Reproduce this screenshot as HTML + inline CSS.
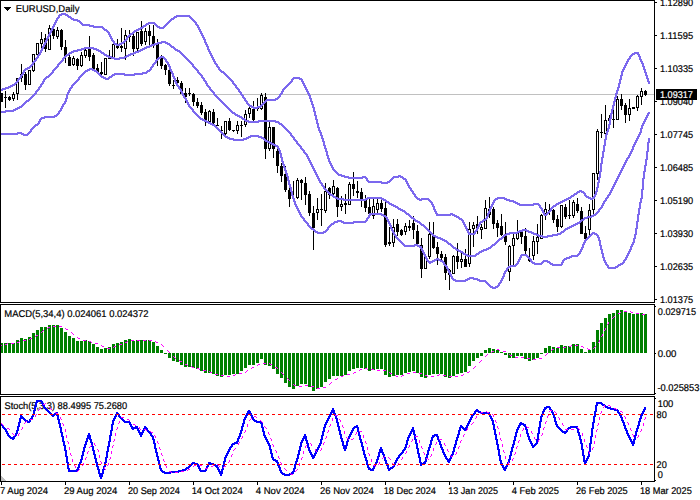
<!DOCTYPE html>
<html><head><meta charset="utf-8"><title>EURUSD Daily</title>
<style>html,body{margin:0;padding:0;background:#fff;}body{width:700px;height:500px;overflow:hidden;}svg{display:block;}text{font-family:"Liberation Sans",sans-serif;font-size:9.8px;text-rendering:geometricPrecision;stroke-width:0.2px;}</style>
</head><body>
<svg width="700" height="500" viewBox="0 0 700 500">
<rect x="0" y="0" width="700" height="500" fill="#fff"/>
<g shape-rendering="crispEdges">
<rect x="1" y="94" width="653" height="1" fill="#c0c0c0"/>
<rect x="1" y="93" width="1" height="9" fill="#000"/>
<rect x="0" y="93" width="3" height="9" fill="#000"/>
<rect x="5" y="91" width="1" height="17" fill="#000"/>
<rect x="4" y="97" width="3" height="1" fill="#000"/>
<rect x="9" y="96" width="1" height="5" fill="#000"/>
<rect x="8" y="97" width="3" height="3" fill="#000"/>
<rect x="13" y="92" width="1" height="9" fill="#000"/>
<rect x="12" y="94" width="3" height="5" fill="#000"/>
<rect x="13" y="95" width="1" height="3" fill="#fff"/>
<rect x="17" y="78" width="1" height="22" fill="#000"/>
<rect x="16" y="78" width="3" height="16" fill="#000"/>
<rect x="17" y="79" width="1" height="14" fill="#fff"/>
<rect x="21" y="64" width="1" height="18" fill="#000"/>
<rect x="20" y="74" width="3" height="4" fill="#000"/>
<rect x="21" y="75" width="1" height="2" fill="#fff"/>
<rect x="25" y="72" width="1" height="18" fill="#000"/>
<rect x="24" y="74" width="3" height="11" fill="#000"/>
<rect x="29" y="70" width="1" height="15" fill="#000"/>
<rect x="28" y="70" width="3" height="15" fill="#000"/>
<rect x="29" y="71" width="1" height="13" fill="#fff"/>
<rect x="33" y="54" width="1" height="18" fill="#000"/>
<rect x="32" y="54" width="3" height="17" fill="#000"/>
<rect x="33" y="55" width="1" height="15" fill="#fff"/>
<rect x="37" y="43" width="1" height="14" fill="#000"/>
<rect x="36" y="43" width="3" height="12" fill="#000"/>
<rect x="37" y="44" width="1" height="10" fill="#fff"/>
<rect x="41" y="32" width="1" height="18" fill="#000"/>
<rect x="40" y="39" width="3" height="5" fill="#000"/>
<rect x="41" y="40" width="1" height="3" fill="#fff"/>
<rect x="45" y="34" width="1" height="18" fill="#000"/>
<rect x="44" y="38" width="3" height="11" fill="#000"/>
<rect x="49" y="25" width="1" height="25" fill="#000"/>
<rect x="48" y="28" width="3" height="22" fill="#000"/>
<rect x="49" y="29" width="1" height="20" fill="#fff"/>
<rect x="53" y="24" width="1" height="15" fill="#000"/>
<rect x="52" y="29" width="3" height="7" fill="#000"/>
<rect x="57" y="27" width="1" height="12" fill="#000"/>
<rect x="56" y="30" width="3" height="7" fill="#000"/>
<rect x="57" y="31" width="1" height="5" fill="#fff"/>
<rect x="61" y="29" width="1" height="21" fill="#000"/>
<rect x="60" y="30" width="3" height="17" fill="#000"/>
<rect x="65" y="40" width="1" height="23" fill="#000"/>
<rect x="64" y="47" width="3" height="10" fill="#000"/>
<rect x="69" y="52" width="1" height="14" fill="#000"/>
<rect x="68" y="57" width="3" height="9" fill="#000"/>
<rect x="73" y="56" width="1" height="10" fill="#000"/>
<rect x="72" y="58" width="3" height="7" fill="#000"/>
<rect x="73" y="59" width="1" height="5" fill="#fff"/>
<rect x="77" y="58" width="1" height="12" fill="#000"/>
<rect x="76" y="59" width="3" height="7" fill="#000"/>
<rect x="81" y="52" width="1" height="15" fill="#000"/>
<rect x="80" y="55" width="3" height="11" fill="#000"/>
<rect x="81" y="56" width="1" height="9" fill="#fff"/>
<rect x="85" y="47" width="1" height="11" fill="#000"/>
<rect x="84" y="50" width="3" height="6" fill="#000"/>
<rect x="85" y="51" width="1" height="4" fill="#fff"/>
<rect x="89" y="36" width="1" height="25" fill="#000"/>
<rect x="88" y="47" width="3" height="10" fill="#000"/>
<rect x="93" y="53" width="1" height="16" fill="#000"/>
<rect x="92" y="55" width="3" height="14" fill="#000"/>
<rect x="97" y="64" width="1" height="8" fill="#000"/>
<rect x="96" y="68" width="3" height="4" fill="#000"/>
<rect x="101" y="62" width="1" height="13" fill="#000"/>
<rect x="100" y="72" width="3" height="2" fill="#000"/>
<rect x="105" y="58" width="1" height="17" fill="#000"/>
<rect x="104" y="58" width="3" height="17" fill="#000"/>
<rect x="105" y="59" width="1" height="15" fill="#fff"/>
<rect x="109" y="50" width="1" height="9" fill="#000"/>
<rect x="108" y="58" width="3" height="1" fill="#000"/>
<rect x="113" y="44" width="1" height="14" fill="#000"/>
<rect x="112" y="44" width="3" height="14" fill="#000"/>
<rect x="113" y="45" width="1" height="12" fill="#fff"/>
<rect x="117" y="39" width="1" height="10" fill="#000"/>
<rect x="116" y="46" width="3" height="2" fill="#000"/>
<rect x="121" y="28" width="1" height="24" fill="#000"/>
<rect x="120" y="46" width="3" height="2" fill="#000"/>
<rect x="125" y="30" width="1" height="30" fill="#000"/>
<rect x="124" y="35" width="3" height="14" fill="#000"/>
<rect x="125" y="36" width="1" height="12" fill="#fff"/>
<rect x="129" y="30" width="1" height="12" fill="#000"/>
<rect x="128" y="36" width="3" height="1" fill="#000"/>
<rect x="133" y="34" width="1" height="22" fill="#000"/>
<rect x="132" y="36" width="3" height="13" fill="#000"/>
<rect x="137" y="32" width="1" height="19" fill="#000"/>
<rect x="136" y="32" width="3" height="17" fill="#000"/>
<rect x="137" y="33" width="1" height="15" fill="#fff"/>
<rect x="141" y="21" width="1" height="25" fill="#000"/>
<rect x="140" y="31" width="3" height="13" fill="#000"/>
<rect x="145" y="28" width="1" height="17" fill="#000"/>
<rect x="144" y="31" width="3" height="11" fill="#000"/>
<rect x="145" y="32" width="1" height="9" fill="#fff"/>
<rect x="149" y="25" width="1" height="20" fill="#000"/>
<rect x="148" y="31" width="3" height="5" fill="#000"/>
<rect x="153" y="25" width="1" height="23" fill="#000"/>
<rect x="152" y="36" width="3" height="8" fill="#000"/>
<rect x="157" y="39" width="1" height="27" fill="#000"/>
<rect x="156" y="44" width="3" height="16" fill="#000"/>
<rect x="161" y="55" width="1" height="14" fill="#000"/>
<rect x="160" y="58" width="3" height="8" fill="#000"/>
<rect x="165" y="64" width="1" height="11" fill="#000"/>
<rect x="164" y="65" width="3" height="5" fill="#000"/>
<rect x="169" y="69" width="1" height="17" fill="#000"/>
<rect x="168" y="70" width="3" height="14" fill="#000"/>
<rect x="173" y="80" width="1" height="9" fill="#000"/>
<rect x="172" y="85" width="3" height="1" fill="#000"/>
<rect x="177" y="77" width="1" height="10" fill="#000"/>
<rect x="176" y="80" width="3" height="3" fill="#000"/>
<rect x="181" y="81" width="1" height="13" fill="#000"/>
<rect x="180" y="83" width="3" height="11" fill="#000"/>
<rect x="185" y="88" width="1" height="15" fill="#000"/>
<rect x="184" y="93" width="3" height="4" fill="#000"/>
<rect x="189" y="88" width="1" height="8" fill="#000"/>
<rect x="188" y="93" width="3" height="1" fill="#000"/>
<rect x="193" y="93" width="1" height="13" fill="#000"/>
<rect x="192" y="94" width="3" height="8" fill="#000"/>
<rect x="197" y="98" width="1" height="10" fill="#000"/>
<rect x="196" y="102" width="3" height="4" fill="#000"/>
<rect x="201" y="102" width="1" height="13" fill="#000"/>
<rect x="200" y="105" width="3" height="8" fill="#000"/>
<rect x="205" y="109" width="1" height="17" fill="#000"/>
<rect x="204" y="112" width="3" height="8" fill="#000"/>
<rect x="209" y="110" width="1" height="12" fill="#000"/>
<rect x="208" y="111" width="3" height="11" fill="#000"/>
<rect x="209" y="112" width="1" height="9" fill="#fff"/>
<rect x="213" y="109" width="1" height="17" fill="#000"/>
<rect x="212" y="112" width="3" height="11" fill="#000"/>
<rect x="217" y="118" width="1" height="8" fill="#000"/>
<rect x="216" y="125" width="3" height="1" fill="#000"/>
<rect x="221" y="126" width="1" height="13" fill="#000"/>
<rect x="220" y="130" width="3" height="1" fill="#000"/>
<rect x="225" y="121" width="1" height="14" fill="#000"/>
<rect x="224" y="121" width="3" height="13" fill="#000"/>
<rect x="225" y="122" width="1" height="11" fill="#fff"/>
<rect x="229" y="118" width="1" height="13" fill="#000"/>
<rect x="228" y="121" width="3" height="9" fill="#000"/>
<rect x="233" y="130" width="1" height="2" fill="#000"/>
<rect x="232" y="130" width="3" height="1" fill="#000"/>
<rect x="237" y="121" width="1" height="13" fill="#000"/>
<rect x="236" y="125" width="3" height="6" fill="#000"/>
<rect x="237" y="126" width="1" height="4" fill="#fff"/>
<rect x="241" y="121" width="1" height="16" fill="#000"/>
<rect x="240" y="125" width="3" height="1" fill="#000"/>
<rect x="245" y="110" width="1" height="17" fill="#000"/>
<rect x="244" y="114" width="3" height="11" fill="#000"/>
<rect x="245" y="115" width="1" height="9" fill="#fff"/>
<rect x="249" y="107" width="1" height="11" fill="#000"/>
<rect x="248" y="108" width="3" height="6" fill="#000"/>
<rect x="249" y="109" width="1" height="4" fill="#fff"/>
<rect x="253" y="101" width="1" height="20" fill="#000"/>
<rect x="252" y="109" width="3" height="11" fill="#000"/>
<rect x="257" y="98" width="1" height="13" fill="#000"/>
<rect x="256" y="108" width="3" height="1" fill="#000"/>
<rect x="261" y="93" width="1" height="17" fill="#000"/>
<rect x="260" y="95" width="3" height="14" fill="#000"/>
<rect x="261" y="96" width="1" height="12" fill="#fff"/>
<rect x="265" y="93" width="1" height="66" fill="#000"/>
<rect x="264" y="97" width="3" height="52" fill="#000"/>
<rect x="269" y="122" width="1" height="29" fill="#000"/>
<rect x="268" y="127" width="3" height="22" fill="#000"/>
<rect x="269" y="128" width="1" height="20" fill="#fff"/>
<rect x="273" y="127" width="1" height="31" fill="#000"/>
<rect x="272" y="127" width="3" height="22" fill="#000"/>
<rect x="277" y="149" width="1" height="24" fill="#000"/>
<rect x="276" y="151" width="3" height="15" fill="#000"/>
<rect x="281" y="163" width="1" height="19" fill="#000"/>
<rect x="280" y="166" width="3" height="10" fill="#000"/>
<rect x="285" y="166" width="1" height="26" fill="#000"/>
<rect x="284" y="174" width="3" height="16" fill="#000"/>
<rect x="289" y="187" width="1" height="20" fill="#000"/>
<rect x="288" y="190" width="3" height="9" fill="#000"/>
<rect x="293" y="181" width="1" height="18" fill="#000"/>
<rect x="292" y="198" width="3" height="1" fill="#000"/>
<rect x="297" y="178" width="1" height="21" fill="#000"/>
<rect x="296" y="180" width="3" height="18" fill="#000"/>
<rect x="297" y="181" width="1" height="16" fill="#fff"/>
<rect x="301" y="179" width="1" height="21" fill="#000"/>
<rect x="300" y="180" width="3" height="3" fill="#000"/>
<rect x="305" y="177" width="1" height="28" fill="#000"/>
<rect x="304" y="183" width="3" height="12" fill="#000"/>
<rect x="309" y="191" width="1" height="25" fill="#000"/>
<rect x="308" y="194" width="3" height="19" fill="#000"/>
<rect x="313" y="206" width="1" height="44" fill="#000"/>
<rect x="312" y="213" width="3" height="15" fill="#000"/>
<rect x="317" y="198" width="1" height="22" fill="#000"/>
<rect x="316" y="209" width="3" height="4" fill="#000"/>
<rect x="317" y="210" width="1" height="2" fill="#fff"/>
<rect x="321" y="194" width="1" height="32" fill="#000"/>
<rect x="320" y="209" width="3" height="1" fill="#000"/>
<rect x="325" y="183" width="1" height="30" fill="#000"/>
<rect x="324" y="191" width="3" height="20" fill="#000"/>
<rect x="325" y="192" width="1" height="18" fill="#fff"/>
<rect x="329" y="187" width="1" height="12" fill="#000"/>
<rect x="328" y="188" width="3" height="7" fill="#000"/>
<rect x="333" y="180" width="1" height="15" fill="#000"/>
<rect x="332" y="186" width="3" height="8" fill="#000"/>
<rect x="333" y="187" width="1" height="6" fill="#fff"/>
<rect x="337" y="187" width="1" height="30" fill="#000"/>
<rect x="336" y="188" width="3" height="19" fill="#000"/>
<rect x="341" y="196" width="1" height="15" fill="#000"/>
<rect x="340" y="204" width="3" height="3" fill="#000"/>
<rect x="341" y="205" width="1" height="1" fill="#fff"/>
<rect x="345" y="194" width="1" height="20" fill="#000"/>
<rect x="344" y="203" width="3" height="2" fill="#000"/>
<rect x="349" y="182" width="1" height="23" fill="#000"/>
<rect x="348" y="184" width="3" height="21" fill="#000"/>
<rect x="349" y="185" width="1" height="19" fill="#fff"/>
<rect x="353" y="172" width="1" height="24" fill="#000"/>
<rect x="352" y="184" width="3" height="5" fill="#000"/>
<rect x="357" y="181" width="1" height="17" fill="#000"/>
<rect x="356" y="191" width="3" height="2" fill="#000"/>
<rect x="361" y="188" width="1" height="19" fill="#000"/>
<rect x="360" y="192" width="3" height="7" fill="#000"/>
<rect x="365" y="195" width="1" height="17" fill="#000"/>
<rect x="364" y="200" width="3" height="8" fill="#000"/>
<rect x="369" y="197" width="1" height="19" fill="#000"/>
<rect x="368" y="207" width="3" height="7" fill="#000"/>
<rect x="373" y="199" width="1" height="20" fill="#000"/>
<rect x="372" y="206" width="3" height="10" fill="#000"/>
<rect x="373" y="207" width="1" height="8" fill="#fff"/>
<rect x="377" y="199" width="1" height="15" fill="#000"/>
<rect x="376" y="203" width="3" height="7" fill="#000"/>
<rect x="377" y="204" width="1" height="5" fill="#fff"/>
<rect x="381" y="200" width="1" height="12" fill="#000"/>
<rect x="380" y="203" width="3" height="6" fill="#000"/>
<rect x="385" y="202" width="1" height="45" fill="#000"/>
<rect x="384" y="208" width="3" height="37" fill="#000"/>
<rect x="389" y="227" width="1" height="19" fill="#000"/>
<rect x="388" y="242" width="3" height="2" fill="#000"/>
<rect x="393" y="219" width="1" height="28" fill="#000"/>
<rect x="392" y="227" width="3" height="16" fill="#000"/>
<rect x="393" y="228" width="1" height="14" fill="#fff"/>
<rect x="397" y="219" width="1" height="17" fill="#000"/>
<rect x="396" y="224" width="3" height="8" fill="#000"/>
<rect x="401" y="229" width="1" height="7" fill="#000"/>
<rect x="400" y="230" width="3" height="5" fill="#000"/>
<rect x="405" y="223" width="1" height="12" fill="#000"/>
<rect x="404" y="226" width="3" height="6" fill="#000"/>
<rect x="405" y="227" width="1" height="4" fill="#fff"/>
<rect x="409" y="220" width="1" height="11" fill="#000"/>
<rect x="408" y="226" width="3" height="2" fill="#000"/>
<rect x="413" y="216" width="1" height="23" fill="#000"/>
<rect x="412" y="223" width="3" height="7" fill="#000"/>
<rect x="417" y="225" width="1" height="19" fill="#000"/>
<rect x="416" y="231" width="3" height="13" fill="#000"/>
<rect x="421" y="238" width="1" height="40" fill="#000"/>
<rect x="420" y="245" width="3" height="24" fill="#000"/>
<rect x="425" y="255" width="1" height="14" fill="#000"/>
<rect x="424" y="256" width="3" height="13" fill="#000"/>
<rect x="425" y="257" width="1" height="11" fill="#fff"/>
<rect x="429" y="222" width="1" height="37" fill="#000"/>
<rect x="428" y="234" width="3" height="23" fill="#000"/>
<rect x="429" y="235" width="1" height="21" fill="#fff"/>
<rect x="433" y="222" width="1" height="27" fill="#000"/>
<rect x="432" y="235" width="3" height="13" fill="#000"/>
<rect x="437" y="242" width="1" height="23" fill="#000"/>
<rect x="436" y="247" width="3" height="7" fill="#000"/>
<rect x="441" y="251" width="1" height="9" fill="#000"/>
<rect x="440" y="254" width="3" height="4" fill="#000"/>
<rect x="445" y="254" width="1" height="26" fill="#000"/>
<rect x="444" y="257" width="3" height="16" fill="#000"/>
<rect x="449" y="269" width="1" height="21" fill="#000"/>
<rect x="448" y="270" width="3" height="5" fill="#000"/>
<rect x="453" y="255" width="1" height="19" fill="#000"/>
<rect x="452" y="256" width="3" height="18" fill="#000"/>
<rect x="453" y="257" width="1" height="16" fill="#fff"/>
<rect x="457" y="243" width="1" height="26" fill="#000"/>
<rect x="456" y="256" width="3" height="6" fill="#000"/>
<rect x="461" y="252" width="1" height="16" fill="#000"/>
<rect x="460" y="259" width="3" height="3" fill="#000"/>
<rect x="461" y="260" width="1" height="1" fill="#fff"/>
<rect x="465" y="249" width="1" height="18" fill="#000"/>
<rect x="464" y="259" width="3" height="8" fill="#000"/>
<rect x="469" y="222" width="1" height="45" fill="#000"/>
<rect x="468" y="229" width="3" height="35" fill="#000"/>
<rect x="469" y="230" width="1" height="33" fill="#fff"/>
<rect x="473" y="222" width="1" height="25" fill="#000"/>
<rect x="472" y="225" width="3" height="4" fill="#000"/>
<rect x="473" y="226" width="1" height="2" fill="#fff"/>
<rect x="477" y="216" width="1" height="18" fill="#000"/>
<rect x="476" y="224" width="3" height="5" fill="#000"/>
<rect x="481" y="224" width="1" height="15" fill="#000"/>
<rect x="480" y="227" width="3" height="3" fill="#000"/>
<rect x="481" y="228" width="1" height="1" fill="#fff"/>
<rect x="485" y="200" width="1" height="29" fill="#000"/>
<rect x="484" y="208" width="3" height="21" fill="#000"/>
<rect x="485" y="209" width="1" height="19" fill="#fff"/>
<rect x="489" y="197" width="1" height="21" fill="#000"/>
<rect x="488" y="209" width="3" height="6" fill="#000"/>
<rect x="489" y="210" width="1" height="4" fill="#fff"/>
<rect x="493" y="207" width="1" height="22" fill="#000"/>
<rect x="492" y="209" width="3" height="15" fill="#000"/>
<rect x="497" y="220" width="1" height="17" fill="#000"/>
<rect x="496" y="223" width="3" height="5" fill="#000"/>
<rect x="501" y="214" width="1" height="22" fill="#000"/>
<rect x="500" y="226" width="3" height="9" fill="#000"/>
<rect x="505" y="222" width="1" height="23" fill="#000"/>
<rect x="504" y="236" width="3" height="6" fill="#000"/>
<rect x="509" y="245" width="1" height="36" fill="#000"/>
<rect x="508" y="246" width="3" height="26" fill="#000"/>
<rect x="509" y="247" width="1" height="24" fill="#fff"/>
<rect x="513" y="234" width="1" height="31" fill="#000"/>
<rect x="512" y="238" width="3" height="8" fill="#000"/>
<rect x="513" y="239" width="1" height="6" fill="#fff"/>
<rect x="517" y="220" width="1" height="20" fill="#000"/>
<rect x="516" y="232" width="3" height="7" fill="#000"/>
<rect x="517" y="233" width="1" height="5" fill="#fff"/>
<rect x="521" y="230" width="1" height="14" fill="#000"/>
<rect x="520" y="232" width="3" height="5" fill="#000"/>
<rect x="525" y="228" width="1" height="26" fill="#000"/>
<rect x="524" y="236" width="3" height="15" fill="#000"/>
<rect x="529" y="248" width="1" height="14" fill="#000"/>
<rect x="528" y="258" width="3" height="3" fill="#000"/>
<rect x="529" y="259" width="1" height="1" fill="#fff"/>
<rect x="533" y="236" width="1" height="24" fill="#000"/>
<rect x="532" y="241" width="3" height="15" fill="#000"/>
<rect x="533" y="242" width="1" height="13" fill="#fff"/>
<rect x="537" y="224" width="1" height="30" fill="#000"/>
<rect x="536" y="237" width="3" height="5" fill="#000"/>
<rect x="537" y="238" width="1" height="3" fill="#fff"/>
<rect x="541" y="214" width="1" height="25" fill="#000"/>
<rect x="540" y="215" width="3" height="24" fill="#000"/>
<rect x="541" y="216" width="1" height="22" fill="#fff"/>
<rect x="545" y="202" width="1" height="18" fill="#000"/>
<rect x="544" y="209" width="3" height="5" fill="#000"/>
<rect x="545" y="210" width="1" height="3" fill="#fff"/>
<rect x="549" y="204" width="1" height="11" fill="#000"/>
<rect x="548" y="210" width="3" height="2" fill="#000"/>
<rect x="553" y="209" width="1" height="14" fill="#000"/>
<rect x="552" y="210" width="3" height="10" fill="#000"/>
<rect x="557" y="215" width="1" height="17" fill="#000"/>
<rect x="556" y="219" width="3" height="8" fill="#000"/>
<rect x="561" y="205" width="1" height="23" fill="#000"/>
<rect x="560" y="205" width="3" height="22" fill="#000"/>
<rect x="561" y="206" width="1" height="20" fill="#fff"/>
<rect x="565" y="204" width="1" height="15" fill="#000"/>
<rect x="564" y="207" width="3" height="10" fill="#000"/>
<rect x="569" y="200" width="1" height="19" fill="#000"/>
<rect x="568" y="215" width="3" height="1" fill="#000"/>
<rect x="573" y="200" width="1" height="18" fill="#000"/>
<rect x="572" y="202" width="3" height="14" fill="#000"/>
<rect x="573" y="203" width="1" height="12" fill="#fff"/>
<rect x="577" y="198" width="1" height="15" fill="#000"/>
<rect x="576" y="204" width="3" height="7" fill="#000"/>
<rect x="581" y="207" width="1" height="27" fill="#000"/>
<rect x="580" y="211" width="3" height="23" fill="#000"/>
<rect x="585" y="226" width="1" height="14" fill="#000"/>
<rect x="584" y="233" width="3" height="6" fill="#000"/>
<rect x="589" y="204" width="1" height="31" fill="#000"/>
<rect x="588" y="210" width="3" height="20" fill="#000"/>
<rect x="589" y="211" width="1" height="18" fill="#fff"/>
<rect x="593" y="173" width="1" height="41" fill="#000"/>
<rect x="592" y="173" width="3" height="37" fill="#000"/>
<rect x="593" y="174" width="1" height="35" fill="#fff"/>
<rect x="597" y="129" width="1" height="51" fill="#000"/>
<rect x="596" y="131" width="3" height="43" fill="#000"/>
<rect x="597" y="132" width="1" height="41" fill="#fff"/>
<rect x="601" y="114" width="1" height="24" fill="#000"/>
<rect x="600" y="132" width="3" height="1" fill="#000"/>
<rect x="605" y="105" width="1" height="29" fill="#000"/>
<rect x="604" y="120" width="3" height="14" fill="#000"/>
<rect x="605" y="121" width="1" height="12" fill="#fff"/>
<rect x="609" y="115" width="1" height="10" fill="#000"/>
<rect x="608" y="118" width="3" height="3" fill="#000"/>
<rect x="613" y="109" width="1" height="19" fill="#000"/>
<rect x="612" y="119" width="3" height="1" fill="#000"/>
<rect x="617" y="96" width="1" height="24" fill="#000"/>
<rect x="616" y="99" width="3" height="21" fill="#000"/>
<rect x="617" y="100" width="1" height="19" fill="#fff"/>
<rect x="621" y="94" width="1" height="16" fill="#000"/>
<rect x="620" y="99" width="3" height="7" fill="#000"/>
<rect x="625" y="103" width="1" height="20" fill="#000"/>
<rect x="624" y="105" width="3" height="10" fill="#000"/>
<rect x="629" y="99" width="1" height="22" fill="#000"/>
<rect x="628" y="108" width="3" height="7" fill="#000"/>
<rect x="629" y="109" width="1" height="5" fill="#fff"/>
<rect x="633" y="107" width="1" height="2" fill="#000"/>
<rect x="632" y="107" width="3" height="2" fill="#000"/>
<rect x="637" y="95" width="1" height="16" fill="#000"/>
<rect x="636" y="96" width="3" height="12" fill="#000"/>
<rect x="637" y="97" width="1" height="10" fill="#fff"/>
<rect x="641" y="88" width="1" height="17" fill="#000"/>
<rect x="640" y="91" width="3" height="6" fill="#000"/>
<rect x="641" y="92" width="1" height="4" fill="#fff"/>
<rect x="645" y="90" width="1" height="6" fill="#000"/>
<rect x="644" y="91" width="3" height="4" fill="#000"/>
</g>
<path d="M61 13h5v1h-5zM59 14h9v1h-9zM58 15h4v1h-4zM65 15h4v1h-4zM176 15h14v1h-14zM58 16h2v1h-2zM67 16h4v1h-4zM174 16h17v1h-17zM57 17h3v1h-3zM68 17h4v1h-4zM173 17h4v1h-4zM189 17h3v1h-3zM56 18h3v1h-3zM70 18h4v1h-4zM171 18h4v1h-4zM190 18h3v1h-3zM56 19h2v1h-2zM71 19h7v1h-7zM170 19h4v1h-4zM191 19h3v1h-3zM55 20h3v1h-3zM73 20h7v1h-7zM169 20h3v1h-3zM192 20h3v1h-3zM55 21h2v1h-2zM77 21h4v1h-4zM168 21h3v1h-3zM193 21h3v1h-3zM54 22h3v1h-3zM79 22h3v1h-3zM148 22h7v1h-7zM167 22h3v1h-3zM194 22h3v1h-3zM54 23h2v1h-2zM80 23h3v1h-3zM146 23h10v1h-10zM166 23h3v1h-3zM195 23h2v1h-2zM53 24h3v1h-3zM81 24h9v1h-9zM145 24h4v1h-4zM154 24h3v1h-3zM165 24h3v1h-3zM195 24h3v1h-3zM53 25h2v1h-2zM82 25h12v1h-12zM143 25h4v1h-4zM155 25h3v1h-3zM164 25h3v1h-3zM196 25h3v1h-3zM52 26h3v1h-3zM89 26h14v1h-14zM142 26h4v1h-4zM156 26h4v1h-4zM163 26h3v1h-3zM197 26h2v1h-2zM52 27h2v1h-2zM93 27h11v1h-11zM140 27h4v1h-4zM157 27h8v1h-8zM197 27h3v1h-3zM51 28h3v1h-3zM102 28h3v1h-3zM138 28h5v1h-5zM159 28h5v1h-5zM198 28h2v1h-2zM51 29h2v1h-2zM103 29h4v1h-4zM136 29h5v1h-5zM198 29h3v1h-3zM50 30h3v1h-3zM104 30h4v1h-4zM134 30h5v1h-5zM199 30h2v1h-2zM50 31h2v1h-2zM106 31h3v1h-3zM133 31h4v1h-4zM199 31h3v1h-3zM49 32h3v1h-3zM107 32h3v1h-3zM132 32h3v1h-3zM200 32h2v1h-2zM49 33h2v1h-2zM108 33h2v1h-2zM130 33h4v1h-4zM200 33h3v1h-3zM48 34h3v1h-3zM108 34h3v1h-3zM129 34h4v1h-4zM201 34h2v1h-2zM48 35h2v1h-2zM109 35h2v1h-2zM128 35h3v1h-3zM201 35h3v1h-3zM47 36h3v1h-3zM109 36h3v1h-3zM127 36h3v1h-3zM202 36h2v1h-2zM47 37h2v1h-2zM110 37h2v1h-2zM126 37h3v1h-3zM202 37h3v1h-3zM46 38h3v1h-3zM110 38h3v1h-3zM126 38h2v1h-2zM203 38h2v1h-2zM46 39h2v1h-2zM111 39h2v1h-2zM125 39h3v1h-3zM203 39h3v1h-3zM45 40h3v1h-3zM111 40h3v1h-3zM124 40h3v1h-3zM204 40h2v1h-2zM45 41h2v1h-2zM112 41h3v1h-3zM123 41h3v1h-3zM161 41h5v1h-5zM204 41h2v1h-2zM44 42h3v1h-3zM113 42h2v1h-2zM121 42h4v1h-4zM157 42h11v1h-11zM204 42h3v1h-3zM44 43h2v1h-2zM113 43h4v1h-4zM119 43h5v1h-5zM154 43h8v1h-8zM165 43h5v1h-5zM205 43h2v1h-2zM43 44h3v1h-3zM114 44h8v1h-8zM151 44h7v1h-7zM167 44h4v1h-4zM205 44h3v1h-3zM43 45h2v1h-2zM116 45h4v1h-4zM149 45h6v1h-6zM169 45h3v1h-3zM206 45h2v1h-2zM42 46h3v1h-3zM146 46h6v1h-6zM170 46h4v1h-4zM206 46h3v1h-3zM42 47h2v1h-2zM84 47h10v1h-10zM144 47h6v1h-6zM171 47h4v1h-4zM207 47h2v1h-2zM41 48h3v1h-3zM81 48h16v1h-16zM142 48h5v1h-5zM173 48h3v1h-3zM207 48h2v1h-2zM41 49h2v1h-2zM77 49h8v1h-8zM93 49h6v1h-6zM140 49h5v1h-5zM174 49h4v1h-4zM207 49h3v1h-3zM40 50h3v1h-3zM73 50h9v1h-9zM96 50h5v1h-5zM138 50h5v1h-5zM175 50h5v1h-5zM208 50h2v1h-2zM40 51h2v1h-2zM71 51h7v1h-7zM98 51h4v1h-4zM135 51h6v1h-6zM177 51h4v1h-4zM208 51h3v1h-3zM39 52h3v1h-3zM69 52h5v1h-5zM100 52h4v1h-4zM133 52h6v1h-6zM179 52h3v1h-3zM209 52h2v1h-2zM634 52h5v1h-5zM39 53h2v1h-2zM68 53h4v1h-4zM101 53h4v1h-4zM130 53h6v1h-6zM180 53h3v1h-3zM209 53h3v1h-3zM632 53h7v1h-7zM38 54h3v1h-3zM66 54h4v1h-4zM103 54h4v1h-4zM128 54h6v1h-6zM181 54h3v1h-3zM210 54h2v1h-2zM631 54h4v1h-4zM637 54h3v1h-3zM37 55h3v1h-3zM65 55h4v1h-4zM104 55h5v1h-5zM126 55h5v1h-5zM182 55h3v1h-3zM210 55h3v1h-3zM630 55h3v1h-3zM638 55h2v1h-2zM37 56h2v1h-2zM64 56h3v1h-3zM106 56h6v1h-6zM124 56h5v1h-5zM160 56h4v1h-4zM183 56h3v1h-3zM211 56h2v1h-2zM629 56h3v1h-3zM638 56h3v1h-3zM36 57h3v1h-3zM63 57h3v1h-3zM108 57h7v1h-7zM119 57h8v1h-8zM158 57h7v1h-7zM184 57h3v1h-3zM211 57h3v1h-3zM629 57h2v1h-2zM639 57h2v1h-2zM35 58h3v1h-3zM62 58h3v1h-3zM111 58h14v1h-14zM157 58h4v1h-4zM163 58h3v1h-3zM185 58h3v1h-3zM212 58h2v1h-2zM628 58h3v1h-3zM639 58h2v1h-2zM35 59h2v1h-2zM62 59h2v1h-2zM114 59h6v1h-6zM156 59h3v1h-3zM164 59h3v1h-3zM186 59h3v1h-3zM212 59h3v1h-3zM627 59h3v1h-3zM639 59h3v1h-3zM34 60h3v1h-3zM61 60h3v1h-3zM155 60h3v1h-3zM165 60h2v1h-2zM187 60h3v1h-3zM213 60h2v1h-2zM627 60h2v1h-2zM640 60h2v1h-2zM33 61h3v1h-3zM60 61h3v1h-3zM155 61h2v1h-2zM165 61h3v1h-3zM188 61h3v1h-3zM213 61h3v1h-3zM626 61h3v1h-3zM640 61h3v1h-3zM32 62h3v1h-3zM59 62h3v1h-3zM154 62h3v1h-3zM166 62h3v1h-3zM189 62h3v1h-3zM214 62h2v1h-2zM626 62h2v1h-2zM641 62h2v1h-2zM32 63h2v1h-2zM58 63h3v1h-3zM153 63h3v1h-3zM167 63h2v1h-2zM190 63h3v1h-3zM214 63h3v1h-3zM625 63h3v1h-3zM641 63h3v1h-3zM31 64h3v1h-3zM57 64h3v1h-3zM152 64h3v1h-3zM167 64h3v1h-3zM191 64h3v1h-3zM215 64h3v1h-3zM625 64h2v1h-2zM642 64h2v1h-2zM30 65h3v1h-3zM57 65h2v1h-2zM152 65h2v1h-2zM168 65h2v1h-2zM192 65h2v1h-2zM216 65h2v1h-2zM624 65h3v1h-3zM642 65h2v1h-2zM29 66h3v1h-3zM56 66h3v1h-3zM151 66h3v1h-3zM168 66h3v1h-3zM192 66h3v1h-3zM216 66h3v1h-3zM624 66h2v1h-2zM642 66h3v1h-3zM27 67h4v1h-4zM55 67h3v1h-3zM150 67h3v1h-3zM169 67h2v1h-2zM193 67h3v1h-3zM217 67h3v1h-3zM623 67h3v1h-3zM643 67h2v1h-2zM25 68h5v1h-5zM54 68h3v1h-3zM89 68h4v1h-4zM150 68h2v1h-2zM169 68h2v1h-2zM194 68h3v1h-3zM218 68h2v1h-2zM623 68h2v1h-2zM643 68h2v1h-2zM24 69h4v1h-4zM53 69h3v1h-3zM87 69h8v1h-8zM149 69h3v1h-3zM169 69h3v1h-3zM195 69h3v1h-3zM218 69h3v1h-3zM622 69h3v1h-3zM643 69h3v1h-3zM23 70h3v1h-3zM52 70h3v1h-3zM85 70h5v1h-5zM92 70h5v1h-5zM147 70h4v1h-4zM170 70h2v1h-2zM196 70h3v1h-3zM219 70h3v1h-3zM622 70h2v1h-2zM644 70h2v1h-2zM23 71h2v1h-2zM52 71h2v1h-2zM84 71h4v1h-4zM94 71h4v1h-4zM146 71h4v1h-4zM170 71h3v1h-3zM197 71h2v1h-2zM220 71h4v1h-4zM621 71h3v1h-3zM644 71h2v1h-2zM22 72h3v1h-3zM51 72h3v1h-3zM83 72h3v1h-3zM96 72h3v1h-3zM142 72h6v1h-6zM171 72h2v1h-2zM197 72h3v1h-3zM221 72h4v1h-4zM621 72h2v1h-2zM644 72h3v1h-3zM22 73h2v1h-2zM50 73h3v1h-3zM82 73h3v1h-3zM97 73h3v1h-3zM114 73h11v1h-11zM134 73h13v1h-13zM171 73h3v1h-3zM198 73h3v1h-3zM223 73h3v1h-3zM621 73h2v1h-2zM645 73h2v1h-2zM21 74h3v1h-3zM49 74h3v1h-3zM81 74h3v1h-3zM98 74h3v1h-3zM112 74h31v1h-31zM172 74h2v1h-2zM199 74h3v1h-3zM224 74h3v1h-3zM621 74h2v1h-2zM645 74h2v1h-2zM20 75h3v1h-3zM48 75h3v1h-3zM80 75h3v1h-3zM99 75h3v1h-3zM111 75h4v1h-4zM124 75h11v1h-11zM172 75h2v1h-2zM200 75h3v1h-3zM225 75h3v1h-3zM620 75h3v1h-3zM645 75h3v1h-3zM20 76h2v1h-2zM46 76h4v1h-4zM79 76h3v1h-3zM100 76h4v1h-4zM109 76h4v1h-4zM172 76h3v1h-3zM201 76h2v1h-2zM226 76h3v1h-3zM620 76h2v1h-2zM646 76h2v1h-2zM19 77h3v1h-3zM45 77h4v1h-4zM78 77h3v1h-3zM101 77h5v1h-5zM108 77h4v1h-4zM173 77h2v1h-2zM201 77h3v1h-3zM227 77h3v1h-3zM293 77h7v1h-7zM620 77h2v1h-2zM646 77h2v1h-2zM18 78h3v1h-3zM44 78h3v1h-3zM78 78h2v1h-2zM103 78h7v1h-7zM173 78h3v1h-3zM202 78h3v1h-3zM228 78h3v1h-3zM292 78h10v1h-10zM620 78h2v1h-2zM646 78h3v1h-3zM17 79h3v1h-3zM43 79h3v1h-3zM77 79h3v1h-3zM105 79h4v1h-4zM174 79h2v1h-2zM203 79h2v1h-2zM229 79h3v1h-3zM291 79h3v1h-3zM299 79h4v1h-4zM619 79h3v1h-3zM647 79h2v1h-2zM17 80h2v1h-2zM43 80h2v1h-2zM76 80h3v1h-3zM174 80h2v1h-2zM203 80h3v1h-3zM230 80h3v1h-3zM291 80h2v1h-2zM301 80h2v1h-2zM619 80h2v1h-2zM647 80h2v1h-2zM16 81h3v1h-3zM42 81h3v1h-3zM75 81h3v1h-3zM174 81h3v1h-3zM204 81h3v1h-3zM231 81h3v1h-3zM290 81h3v1h-3zM301 81h3v1h-3zM619 81h2v1h-2zM647 81h3v1h-3zM15 82h3v1h-3zM42 82h2v1h-2zM74 82h3v1h-3zM175 82h2v1h-2zM205 82h2v1h-2zM232 82h2v1h-2zM289 82h3v1h-3zM302 82h2v1h-2zM619 82h2v1h-2zM648 82h2v1h-2zM14 83h3v1h-3zM41 83h3v1h-3zM73 83h3v1h-3zM175 83h3v1h-3zM205 83h3v1h-3zM232 83h3v1h-3zM288 83h3v1h-3zM302 83h3v1h-3zM618 83h3v1h-3zM648 83h2v1h-2zM12 84h4v1h-4zM40 84h3v1h-3zM72 84h3v1h-3zM176 84h2v1h-2zM206 84h2v1h-2zM233 84h3v1h-3zM287 84h3v1h-3zM303 84h2v1h-2zM618 84h2v1h-2zM10 85h5v1h-5zM40 85h2v1h-2zM71 85h3v1h-3zM176 85h3v1h-3zM206 85h3v1h-3zM234 85h3v1h-3zM286 85h3v1h-3zM303 85h3v1h-3zM618 85h2v1h-2zM8 86h5v1h-5zM39 86h3v1h-3zM71 86h2v1h-2zM177 86h3v1h-3zM207 86h3v1h-3zM235 86h2v1h-2zM285 86h3v1h-3zM304 86h2v1h-2zM618 86h2v1h-2zM5 87h6v1h-6zM38 87h3v1h-3zM70 87h3v1h-3zM178 87h2v1h-2zM208 87h3v1h-3zM235 87h3v1h-3zM284 87h3v1h-3zM304 87h3v1h-3zM617 87h3v1h-3zM2 88h7v1h-7zM38 88h2v1h-2zM69 88h3v1h-3zM178 88h3v1h-3zM209 88h2v1h-2zM236 88h3v1h-3zM283 88h3v1h-3zM305 88h2v1h-2zM617 88h2v1h-2zM1 89h5v1h-5zM37 89h3v1h-3zM69 89h2v1h-2zM179 89h3v1h-3zM209 89h3v1h-3zM237 89h3v1h-3zM282 89h3v1h-3zM305 89h3v1h-3zM617 89h2v1h-2zM1 90h2v1h-2zM36 90h3v1h-3zM68 90h3v1h-3zM180 90h2v1h-2zM210 90h3v1h-3zM238 90h2v1h-2zM282 90h2v1h-2zM306 90h2v1h-2zM616 90h3v1h-3zM35 91h3v1h-3zM68 91h2v1h-2zM180 91h3v1h-3zM211 91h3v1h-3zM238 91h3v1h-3zM281 91h3v1h-3zM306 91h3v1h-3zM616 91h2v1h-2zM35 92h2v1h-2zM67 92h3v1h-3zM181 92h2v1h-2zM212 92h3v1h-3zM239 92h3v1h-3zM281 92h2v1h-2zM307 92h2v1h-2zM616 92h2v1h-2zM34 93h3v1h-3zM67 93h2v1h-2zM181 93h3v1h-3zM213 93h2v1h-2zM240 93h2v1h-2zM280 93h3v1h-3zM307 93h3v1h-3zM615 93h3v1h-3zM33 94h3v1h-3zM66 94h3v1h-3zM182 94h2v1h-2zM213 94h3v1h-3zM240 94h3v1h-3zM279 94h3v1h-3zM308 94h2v1h-2zM615 94h2v1h-2zM32 95h3v1h-3zM66 95h2v1h-2zM182 95h3v1h-3zM214 95h3v1h-3zM241 95h3v1h-3zM279 95h2v1h-2zM308 95h3v1h-3zM615 95h2v1h-2zM31 96h3v1h-3zM66 96h2v1h-2zM183 96h2v1h-2zM215 96h3v1h-3zM242 96h2v1h-2zM278 96h3v1h-3zM309 96h2v1h-2zM615 96h2v1h-2zM30 97h3v1h-3zM66 97h2v1h-2zM183 97h3v1h-3zM216 97h3v1h-3zM242 97h3v1h-3zM277 97h3v1h-3zM309 97h2v1h-2zM614 97h3v1h-3zM29 98h3v1h-3zM65 98h3v1h-3zM184 98h3v1h-3zM217 98h3v1h-3zM243 98h3v1h-3zM275 98h4v1h-4zM309 98h3v1h-3zM614 98h2v1h-2zM28 99h3v1h-3zM65 99h2v1h-2zM185 99h2v1h-2zM218 99h3v1h-3zM244 99h2v1h-2zM266 99h12v1h-12zM310 99h2v1h-2zM614 99h2v1h-2zM26 100h4v1h-4zM65 100h2v1h-2zM185 100h3v1h-3zM219 100h3v1h-3zM244 100h3v1h-3zM265 100h11v1h-11zM310 100h2v1h-2zM614 100h2v1h-2zM25 101h4v1h-4zM64 101h3v1h-3zM186 101h2v1h-2zM220 101h3v1h-3zM245 101h3v1h-3zM264 101h3v1h-3zM310 101h3v1h-3zM613 101h3v1h-3zM24 102h3v1h-3zM64 102h2v1h-2zM186 102h3v1h-3zM221 102h3v1h-3zM246 102h2v1h-2zM263 102h3v1h-3zM311 102h2v1h-2zM613 102h2v1h-2zM23 103h3v1h-3zM63 103h3v1h-3zM187 103h2v1h-2zM222 103h3v1h-3zM246 103h3v1h-3zM262 103h3v1h-3zM311 103h2v1h-2zM613 103h2v1h-2zM22 104h3v1h-3zM62 104h3v1h-3zM187 104h3v1h-3zM223 104h3v1h-3zM247 104h3v1h-3zM261 104h3v1h-3zM311 104h3v1h-3zM613 104h2v1h-2zM21 105h3v1h-3zM62 105h2v1h-2zM188 105h2v1h-2zM224 105h3v1h-3zM248 105h4v1h-4zM260 105h3v1h-3zM312 105h2v1h-2zM612 105h3v1h-3zM19 106h4v1h-4zM61 106h3v1h-3zM188 106h3v1h-3zM225 106h3v1h-3zM249 106h5v1h-5zM257 106h5v1h-5zM312 106h2v1h-2zM612 106h2v1h-2zM17 107h5v1h-5zM61 107h2v1h-2zM189 107h3v1h-3zM226 107h3v1h-3zM251 107h10v1h-10zM312 107h3v1h-3zM612 107h2v1h-2zM15 108h5v1h-5zM60 108h3v1h-3zM190 108h3v1h-3zM227 108h3v1h-3zM253 108h5v1h-5zM313 108h2v1h-2zM612 108h2v1h-2zM13 109h5v1h-5zM60 109h2v1h-2zM191 109h3v1h-3zM228 109h3v1h-3zM313 109h2v1h-2zM611 109h3v1h-3zM5 110h11v1h-11zM59 110h3v1h-3zM192 110h2v1h-2zM229 110h3v1h-3zM313 110h2v1h-2zM611 110h2v1h-2zM1 111h13v1h-13zM58 111h3v1h-3zM192 111h3v1h-3zM230 111h3v1h-3zM313 111h3v1h-3zM611 111h2v1h-2zM1 112h5v1h-5zM58 112h2v1h-2zM193 112h3v1h-3zM231 112h4v1h-4zM314 112h2v1h-2zM611 112h2v1h-2zM648 112h2v1h-2zM57 113h3v1h-3zM194 113h3v1h-3zM232 113h4v1h-4zM314 113h2v1h-2zM610 113h3v1h-3zM647 113h3v1h-3zM56 114h3v1h-3zM195 114h3v1h-3zM234 114h4v1h-4zM314 114h2v1h-2zM610 114h2v1h-2zM647 114h2v1h-2zM54 115h4v1h-4zM196 115h3v1h-3zM235 115h5v1h-5zM314 115h3v1h-3zM610 115h2v1h-2zM646 115h3v1h-3zM44 116h13v1h-13zM197 116h3v1h-3zM237 116h5v1h-5zM315 116h2v1h-2zM610 116h2v1h-2zM646 116h2v1h-2zM41 117h14v1h-14zM198 117h3v1h-3zM239 117h4v1h-4zM315 117h2v1h-2zM610 117h2v1h-2zM645 117h3v1h-3zM40 118h5v1h-5zM199 118h4v1h-4zM241 118h4v1h-4zM315 118h2v1h-2zM609 118h3v1h-3zM645 118h2v1h-2zM39 119h3v1h-3zM200 119h5v1h-5zM242 119h4v1h-4zM315 119h3v1h-3zM609 119h2v1h-2zM644 119h3v1h-3zM39 120h2v1h-2zM202 120h5v1h-5zM244 120h5v1h-5zM258 120h18v1h-18zM316 120h2v1h-2zM609 120h2v1h-2zM644 120h2v1h-2zM38 121h3v1h-3zM204 121h5v1h-5zM245 121h34v1h-34zM316 121h2v1h-2zM609 121h2v1h-2zM643 121h3v1h-3zM38 122h2v1h-2zM206 122h5v1h-5zM248 122h11v1h-11zM275 122h5v1h-5zM316 122h2v1h-2zM609 122h2v1h-2zM643 122h2v1h-2zM37 123h3v1h-3zM208 123h5v1h-5zM278 123h4v1h-4zM316 123h3v1h-3zM609 123h2v1h-2zM642 123h3v1h-3zM35 124h4v1h-4zM210 124h5v1h-5zM279 124h4v1h-4zM317 124h2v1h-2zM608 124h3v1h-3zM642 124h2v1h-2zM34 125h4v1h-4zM212 125h4v1h-4zM281 125h3v1h-3zM317 125h2v1h-2zM608 125h2v1h-2zM641 125h3v1h-3zM33 126h3v1h-3zM214 126h3v1h-3zM282 126h3v1h-3zM317 126h2v1h-2zM608 126h2v1h-2zM641 126h2v1h-2zM32 127h3v1h-3zM215 127h3v1h-3zM283 127h3v1h-3zM317 127h3v1h-3zM608 127h2v1h-2zM641 127h2v1h-2zM31 128h3v1h-3zM216 128h3v1h-3zM284 128h3v1h-3zM318 128h2v1h-2zM607 128h3v1h-3zM640 128h3v1h-3zM30 129h3v1h-3zM217 129h3v1h-3zM285 129h3v1h-3zM318 129h2v1h-2zM607 129h2v1h-2zM640 129h2v1h-2zM30 130h2v1h-2zM218 130h3v1h-3zM286 130h3v1h-3zM318 130h3v1h-3zM607 130h2v1h-2zM640 130h2v1h-2zM29 131h3v1h-3zM219 131h3v1h-3zM287 131h3v1h-3zM319 131h2v1h-2zM606 131h3v1h-3zM640 131h2v1h-2zM17 132h5v1h-5zM28 132h3v1h-3zM220 132h3v1h-3zM288 132h3v1h-3zM319 132h3v1h-3zM606 132h2v1h-2zM639 132h3v1h-3zM1 133h23v1h-23zM27 133h3v1h-3zM221 133h3v1h-3zM289 133h3v1h-3zM320 133h2v1h-2zM606 133h2v1h-2zM639 133h2v1h-2zM1 134h17v1h-17zM21 134h8v1h-8zM222 134h3v1h-3zM290 134h2v1h-2zM320 134h2v1h-2zM605 134h3v1h-3zM638 134h3v1h-3zM23 135h5v1h-5zM223 135h3v1h-3zM250 135h9v1h-9zM290 135h3v1h-3zM320 135h3v1h-3zM605 135h2v1h-2zM638 135h2v1h-2zM224 136h4v1h-4zM248 136h14v1h-14zM291 136h3v1h-3zM321 136h2v1h-2zM605 136h2v1h-2zM637 136h3v1h-3zM225 137h5v1h-5zM246 137h5v1h-5zM258 137h6v1h-6zM292 137h3v1h-3zM321 137h2v1h-2zM605 137h2v1h-2zM637 137h2v1h-2zM227 138h7v1h-7zM243 138h6v1h-6zM261 138h4v1h-4zM293 138h2v1h-2zM321 138h3v1h-3zM605 138h2v1h-2zM636 138h3v1h-3zM648 138h2v1h-2zM229 139h18v1h-18zM263 139h3v1h-3zM293 139h3v1h-3zM322 139h2v1h-2zM604 139h3v1h-3zM636 139h2v1h-2zM648 139h2v1h-2zM233 140h11v1h-11zM264 140h4v1h-4zM294 140h3v1h-3zM322 140h2v1h-2zM604 140h2v1h-2zM635 140h3v1h-3zM648 140h2v1h-2zM265 141h5v1h-5zM295 141h3v1h-3zM322 141h3v1h-3zM604 141h2v1h-2zM635 141h2v1h-2zM648 141h2v1h-2zM267 142h5v1h-5zM296 142h2v1h-2zM323 142h2v1h-2zM604 142h2v1h-2zM634 142h3v1h-3zM647 142h3v1h-3zM269 143h5v1h-5zM296 143h3v1h-3zM323 143h2v1h-2zM604 143h2v1h-2zM634 143h2v1h-2zM647 143h2v1h-2zM271 144h5v1h-5zM297 144h3v1h-3zM323 144h2v1h-2zM604 144h2v1h-2zM633 144h3v1h-3zM647 144h2v1h-2zM273 145h5v1h-5zM298 145h3v1h-3zM323 145h3v1h-3zM603 145h3v1h-3zM633 145h2v1h-2zM647 145h2v1h-2zM275 146h4v1h-4zM299 146h3v1h-3zM324 146h2v1h-2zM603 146h2v1h-2zM632 146h3v1h-3zM647 146h2v1h-2zM277 147h2v1h-2zM300 147h2v1h-2zM324 147h2v1h-2zM603 147h2v1h-2zM632 147h2v1h-2zM647 147h2v1h-2zM277 148h3v1h-3zM300 148h3v1h-3zM324 148h3v1h-3zM603 148h2v1h-2zM632 148h2v1h-2zM647 148h2v1h-2zM278 149h2v1h-2zM301 149h3v1h-3zM325 149h2v1h-2zM603 149h2v1h-2zM631 149h3v1h-3zM647 149h2v1h-2zM278 150h3v1h-3zM302 150h3v1h-3zM325 150h2v1h-2zM603 150h2v1h-2zM631 150h2v1h-2zM647 150h2v1h-2zM279 151h2v1h-2zM303 151h2v1h-2zM325 151h3v1h-3zM602 151h3v1h-3zM630 151h3v1h-3zM646 151h3v1h-3zM279 152h2v1h-2zM303 152h3v1h-3zM326 152h2v1h-2zM602 152h2v1h-2zM630 152h2v1h-2zM646 152h2v1h-2zM279 153h3v1h-3zM304 153h3v1h-3zM326 153h2v1h-2zM602 153h2v1h-2zM629 153h3v1h-3zM646 153h2v1h-2zM280 154h2v1h-2zM305 154h3v1h-3zM326 154h2v1h-2zM602 154h2v1h-2zM629 154h2v1h-2zM646 154h2v1h-2zM280 155h2v1h-2zM306 155h2v1h-2zM326 155h3v1h-3zM602 155h2v1h-2zM628 155h3v1h-3zM646 155h2v1h-2zM280 156h2v1h-2zM306 156h3v1h-3zM327 156h2v1h-2zM602 156h2v1h-2zM628 156h2v1h-2zM646 156h2v1h-2zM280 157h3v1h-3zM307 157h2v1h-2zM327 157h2v1h-2zM601 157h3v1h-3zM627 157h3v1h-3zM646 157h2v1h-2zM281 158h2v1h-2zM307 158h3v1h-3zM327 158h3v1h-3zM601 158h2v1h-2zM626 158h3v1h-3zM646 158h2v1h-2zM281 159h2v1h-2zM308 159h2v1h-2zM328 159h2v1h-2zM601 159h2v1h-2zM626 159h2v1h-2zM645 159h3v1h-3zM281 160h2v1h-2zM308 160h3v1h-3zM328 160h2v1h-2zM601 160h2v1h-2zM625 160h3v1h-3zM645 160h2v1h-2zM281 161h3v1h-3zM309 161h2v1h-2zM328 161h3v1h-3zM601 161h2v1h-2zM625 161h2v1h-2zM645 161h2v1h-2zM282 162h2v1h-2zM309 162h3v1h-3zM329 162h2v1h-2zM601 162h2v1h-2zM624 162h3v1h-3zM645 162h2v1h-2zM282 163h2v1h-2zM310 163h2v1h-2zM329 163h3v1h-3zM600 163h3v1h-3zM624 163h2v1h-2zM645 163h2v1h-2zM282 164h3v1h-3zM310 164h3v1h-3zM330 164h2v1h-2zM600 164h2v1h-2zM623 164h3v1h-3zM645 164h2v1h-2zM283 165h2v1h-2zM311 165h2v1h-2zM330 165h3v1h-3zM600 165h2v1h-2zM623 165h2v1h-2zM644 165h3v1h-3zM283 166h2v1h-2zM311 166h3v1h-3zM331 166h2v1h-2zM600 166h2v1h-2zM622 166h3v1h-3zM644 166h2v1h-2zM283 167h3v1h-3zM312 167h2v1h-2zM331 167h3v1h-3zM600 167h2v1h-2zM622 167h2v1h-2zM644 167h2v1h-2zM284 168h2v1h-2zM312 168h3v1h-3zM332 168h2v1h-2zM600 168h2v1h-2zM621 168h3v1h-3zM644 168h2v1h-2zM284 169h2v1h-2zM313 169h2v1h-2zM332 169h3v1h-3zM600 169h2v1h-2zM621 169h2v1h-2zM644 169h2v1h-2zM284 170h3v1h-3zM313 170h3v1h-3zM333 170h3v1h-3zM600 170h2v1h-2zM620 170h3v1h-3zM644 170h2v1h-2zM285 171h2v1h-2zM314 171h2v1h-2zM334 171h3v1h-3zM599 171h3v1h-3zM620 171h2v1h-2zM643 171h3v1h-3zM285 172h2v1h-2zM314 172h3v1h-3zM335 172h3v1h-3zM599 172h2v1h-2zM619 172h3v1h-3zM643 172h2v1h-2zM285 173h3v1h-3zM315 173h2v1h-2zM336 173h3v1h-3zM599 173h2v1h-2zM619 173h2v1h-2zM643 173h2v1h-2zM286 174h2v1h-2zM315 174h3v1h-3zM337 174h5v1h-5zM599 174h2v1h-2zM618 174h3v1h-3zM643 174h2v1h-2zM286 175h2v1h-2zM316 175h2v1h-2zM338 175h7v1h-7zM398 175h3v1h-3zM599 175h2v1h-2zM618 175h2v1h-2zM643 175h2v1h-2zM286 176h3v1h-3zM316 176h3v1h-3zM341 176h8v1h-8zM362 176h4v1h-4zM393 176h10v1h-10zM599 176h2v1h-2zM617 176h3v1h-3zM643 176h2v1h-2zM287 177h2v1h-2zM317 177h2v1h-2zM344 177h23v1h-23zM392 177h7v1h-7zM400 177h4v1h-4zM598 177h3v1h-3zM617 177h2v1h-2zM643 177h2v1h-2zM287 178h2v1h-2zM317 178h3v1h-3zM348 178h15v1h-15zM365 178h3v1h-3zM391 178h3v1h-3zM402 178h4v1h-4zM598 178h2v1h-2zM616 178h3v1h-3zM642 178h3v1h-3zM287 179h2v1h-2zM318 179h2v1h-2zM366 179h2v1h-2zM390 179h3v1h-3zM403 179h4v1h-4zM598 179h2v1h-2zM616 179h2v1h-2zM642 179h2v1h-2zM287 180h3v1h-3zM318 180h3v1h-3zM366 180h3v1h-3zM389 180h3v1h-3zM405 180h2v1h-2zM598 180h2v1h-2zM615 180h3v1h-3zM642 180h2v1h-2zM288 181h2v1h-2zM319 181h2v1h-2zM367 181h15v1h-15zM387 181h4v1h-4zM405 181h3v1h-3zM598 181h2v1h-2zM615 181h2v1h-2zM642 181h2v1h-2zM288 182h2v1h-2zM319 182h3v1h-3zM368 182h22v1h-22zM406 182h2v1h-2zM597 182h3v1h-3zM614 182h3v1h-3zM642 182h2v1h-2zM288 183h2v1h-2zM320 183h3v1h-3zM381 183h7v1h-7zM406 183h3v1h-3zM597 183h2v1h-2zM614 183h2v1h-2zM642 183h2v1h-2zM288 184h3v1h-3zM321 184h2v1h-2zM407 184h2v1h-2zM597 184h2v1h-2zM613 184h3v1h-3zM642 184h2v1h-2zM289 185h2v1h-2zM321 185h3v1h-3zM407 185h3v1h-3zM597 185h2v1h-2zM613 185h2v1h-2zM642 185h2v1h-2zM289 186h2v1h-2zM322 186h3v1h-3zM408 186h2v1h-2zM597 186h2v1h-2zM612 186h3v1h-3zM642 186h2v1h-2zM289 187h3v1h-3zM323 187h2v1h-2zM408 187h3v1h-3zM596 187h3v1h-3zM612 187h2v1h-2zM642 187h2v1h-2zM290 188h2v1h-2zM323 188h3v1h-3zM409 188h3v1h-3zM596 188h2v1h-2zM611 188h3v1h-3zM642 188h2v1h-2zM290 189h2v1h-2zM324 189h3v1h-3zM410 189h2v1h-2zM596 189h2v1h-2zM611 189h2v1h-2zM641 189h3v1h-3zM290 190h2v1h-2zM325 190h3v1h-3zM410 190h3v1h-3zM579 190h3v1h-3zM596 190h2v1h-2zM610 190h3v1h-3zM641 190h2v1h-2zM290 191h3v1h-3zM326 191h3v1h-3zM411 191h3v1h-3zM577 191h7v1h-7zM595 191h3v1h-3zM610 191h2v1h-2zM641 191h2v1h-2zM291 192h2v1h-2zM327 192h3v1h-3zM412 192h2v1h-2zM576 192h4v1h-4zM581 192h4v1h-4zM595 192h2v1h-2zM609 192h3v1h-3zM641 192h2v1h-2zM291 193h2v1h-2zM328 193h3v1h-3zM412 193h3v1h-3zM574 193h4v1h-4zM583 193h3v1h-3zM595 193h2v1h-2zM609 193h2v1h-2zM641 193h2v1h-2zM291 194h2v1h-2zM329 194h4v1h-4zM413 194h3v1h-3zM573 194h4v1h-4zM584 194h2v1h-2zM594 194h3v1h-3zM608 194h3v1h-3zM641 194h2v1h-2zM291 195h3v1h-3zM330 195h4v1h-4zM414 195h2v1h-2zM571 195h4v1h-4zM584 195h3v1h-3zM594 195h2v1h-2zM607 195h3v1h-3zM641 195h2v1h-2zM292 196h2v1h-2zM332 196h4v1h-4zM414 196h3v1h-3zM570 196h4v1h-4zM585 196h4v1h-4zM593 196h3v1h-3zM607 196h2v1h-2zM641 196h2v1h-2zM292 197h2v1h-2zM333 197h5v1h-5zM367 197h15v1h-15zM415 197h3v1h-3zM497 197h8v1h-8zM568 197h4v1h-4zM586 197h5v1h-5zM592 197h3v1h-3zM606 197h3v1h-3zM641 197h2v1h-2zM292 198h3v1h-3zM335 198h9v1h-9zM365 198h19v1h-19zM416 198h4v1h-4zM421 198h8v1h-8zM495 198h12v1h-12zM566 198h5v1h-5zM588 198h7v1h-7zM605 198h3v1h-3zM640 198h3v1h-3zM293 199h2v1h-2zM337 199h31v1h-31zM381 199h5v1h-5zM417 199h13v1h-13zM494 199h4v1h-4zM504 199h6v1h-6zM564 199h5v1h-5zM590 199h3v1h-3zM605 199h2v1h-2zM640 199h2v1h-2zM293 200h2v1h-2zM343 200h23v1h-23zM383 200h4v1h-4zM419 200h3v1h-3zM428 200h3v1h-3zM493 200h3v1h-3zM506 200h8v1h-8zM562 200h5v1h-5zM604 200h3v1h-3zM640 200h2v1h-2zM293 201h3v1h-3zM385 201h4v1h-4zM429 201h3v1h-3zM493 201h2v1h-2zM509 201h7v1h-7zM560 201h5v1h-5zM603 201h3v1h-3zM640 201h2v1h-2zM294 202h2v1h-2zM386 202h4v1h-4zM430 202h3v1h-3zM492 202h3v1h-3zM513 202h5v1h-5zM558 202h5v1h-5zM603 202h2v1h-2zM639 202h3v1h-3zM294 203h2v1h-2zM388 203h4v1h-4zM431 203h2v1h-2zM492 203h2v1h-2zM515 203h5v1h-5zM533 203h6v1h-6zM556 203h5v1h-5zM602 203h3v1h-3zM639 203h2v1h-2zM294 204h3v1h-3zM389 204h5v1h-5zM431 204h3v1h-3zM491 204h3v1h-3zM517 204h23v1h-23zM555 204h4v1h-4zM602 204h2v1h-2zM639 204h2v1h-2zM295 205h2v1h-2zM391 205h5v1h-5zM432 205h2v1h-2zM491 205h2v1h-2zM519 205h15v1h-15zM538 205h3v1h-3zM553 205h4v1h-4zM601 205h3v1h-3zM639 205h2v1h-2zM295 206h3v1h-3zM393 206h5v1h-5zM432 206h3v1h-3zM490 206h3v1h-3zM539 206h2v1h-2zM552 206h4v1h-4zM601 206h2v1h-2zM639 206h2v1h-2zM296 207h2v1h-2zM395 207h4v1h-4zM433 207h2v1h-2zM490 207h2v1h-2zM539 207h3v1h-3zM551 207h3v1h-3zM600 207h3v1h-3zM639 207h2v1h-2zM296 208h3v1h-3zM397 208h4v1h-4zM433 208h2v1h-2zM489 208h3v1h-3zM540 208h3v1h-3zM550 208h3v1h-3zM599 208h3v1h-3zM638 208h3v1h-3zM297 209h2v1h-2zM398 209h5v1h-5zM433 209h3v1h-3zM489 209h2v1h-2zM541 209h2v1h-2zM550 209h2v1h-2zM598 209h3v1h-3zM638 209h2v1h-2zM297 210h3v1h-3zM400 210h5v1h-5zM434 210h2v1h-2zM489 210h2v1h-2zM541 210h3v1h-3zM549 210h3v1h-3zM598 210h2v1h-2zM638 210h2v1h-2zM298 211h2v1h-2zM402 211h4v1h-4zM434 211h3v1h-3zM488 211h3v1h-3zM542 211h2v1h-2zM548 211h3v1h-3zM597 211h3v1h-3zM638 211h2v1h-2zM298 212h3v1h-3zM404 212h3v1h-3zM435 212h2v1h-2zM488 212h2v1h-2zM542 212h3v1h-3zM547 212h3v1h-3zM596 212h3v1h-3zM638 212h2v1h-2zM299 213h2v1h-2zM369 213h13v1h-13zM405 213h4v1h-4zM435 213h3v1h-3zM450 213h3v1h-3zM487 213h3v1h-3zM543 213h2v1h-2zM546 213h3v1h-3zM595 213h3v1h-3zM638 213h2v1h-2zM299 214h3v1h-3zM369 214h15v1h-15zM406 214h4v1h-4zM436 214h19v1h-19zM487 214h2v1h-2zM543 214h5v1h-5zM593 214h4v1h-4zM637 214h3v1h-3zM300 215h2v1h-2zM368 215h3v1h-3zM381 215h5v1h-5zM408 215h3v1h-3zM436 215h15v1h-15zM452 215h5v1h-5zM487 215h2v1h-2zM544 215h3v1h-3zM591 215h5v1h-5zM637 215h2v1h-2zM300 216h3v1h-3zM368 216h2v1h-2zM383 216h4v1h-4zM409 216h3v1h-3zM454 216h5v1h-5zM486 216h3v1h-3zM587 216h7v1h-7zM637 216h2v1h-2zM301 217h3v1h-3zM367 217h3v1h-3zM385 217h3v1h-3zM410 217h4v1h-4zM456 217h4v1h-4zM486 217h2v1h-2zM584 217h8v1h-8zM637 217h2v1h-2zM302 218h3v1h-3zM366 218h3v1h-3zM386 218h2v1h-2zM411 218h4v1h-4zM458 218h4v1h-4zM485 218h3v1h-3zM583 218h5v1h-5zM637 218h2v1h-2zM303 219h2v1h-2zM366 219h2v1h-2zM386 219h3v1h-3zM413 219h3v1h-3zM459 219h4v1h-4zM483 219h4v1h-4zM581 219h4v1h-4zM637 219h2v1h-2zM303 220h3v1h-3zM337 220h5v1h-5zM365 220h3v1h-3zM387 220h2v1h-2zM414 220h4v1h-4zM461 220h3v1h-3zM482 220h4v1h-4zM580 220h4v1h-4zM637 220h2v1h-2zM304 221h3v1h-3zM334 221h10v1h-10zM353 221h14v1h-14zM387 221h3v1h-3zM415 221h5v1h-5zM462 221h2v1h-2zM480 221h4v1h-4zM579 221h3v1h-3zM636 221h3v1h-3zM305 222h3v1h-3zM333 222h5v1h-5zM341 222h25v1h-25zM388 222h2v1h-2zM417 222h4v1h-4zM462 222h3v1h-3zM479 222h4v1h-4zM577 222h4v1h-4zM636 222h2v1h-2zM306 223h3v1h-3zM331 223h4v1h-4zM343 223h11v1h-11zM388 223h3v1h-3zM419 223h3v1h-3zM463 223h2v1h-2zM479 223h2v1h-2zM575 223h5v1h-5zM636 223h2v1h-2zM307 224h2v1h-2zM330 224h4v1h-4zM389 224h2v1h-2zM420 224h4v1h-4zM463 224h3v1h-3zM478 224h3v1h-3zM573 224h5v1h-5zM636 224h2v1h-2zM307 225h3v1h-3zM329 225h3v1h-3zM389 225h3v1h-3zM421 225h4v1h-4zM464 225h2v1h-2zM478 225h2v1h-2zM571 225h5v1h-5zM636 225h2v1h-2zM308 226h3v1h-3zM328 226h3v1h-3zM390 226h2v1h-2zM423 226h3v1h-3zM464 226h3v1h-3zM477 226h3v1h-3zM569 226h5v1h-5zM636 226h2v1h-2zM309 227h3v1h-3zM327 227h3v1h-3zM390 227h2v1h-2zM424 227h3v1h-3zM465 227h2v1h-2zM477 227h2v1h-2zM567 227h5v1h-5zM636 227h2v1h-2zM310 228h4v1h-4zM327 228h2v1h-2zM390 228h3v1h-3zM425 228h3v1h-3zM465 228h3v1h-3zM476 228h3v1h-3zM565 228h5v1h-5zM635 228h3v1h-3zM311 229h4v1h-4zM326 229h3v1h-3zM391 229h2v1h-2zM426 229h3v1h-3zM466 229h2v1h-2zM476 229h2v1h-2zM522 229h5v1h-5zM564 229h4v1h-4zM635 229h2v1h-2zM313 230h3v1h-3zM325 230h3v1h-3zM391 230h3v1h-3zM427 230h3v1h-3zM466 230h3v1h-3zM475 230h3v1h-3zM519 230h10v1h-10zM563 230h3v1h-3zM635 230h2v1h-2zM314 231h4v1h-4zM323 231h4v1h-4zM392 231h2v1h-2zM428 231h3v1h-3zM467 231h2v1h-2zM474 231h3v1h-3zM517 231h6v1h-6zM526 231h6v1h-6zM561 231h4v1h-4zM635 231h2v1h-2zM315 232h11v1h-11zM392 232h3v1h-3zM429 232h3v1h-3zM467 232h3v1h-3zM474 232h2v1h-2zM509 232h11v1h-11zM528 232h6v1h-6zM560 232h4v1h-4zM592 232h3v1h-3zM635 232h2v1h-2zM317 233h7v1h-7zM393 233h2v1h-2zM430 233h3v1h-3zM468 233h8v1h-8zM506 233h12v1h-12zM531 233h6v1h-6zM557 233h5v1h-5zM591 233h6v1h-6zM635 233h2v1h-2zM393 234h3v1h-3zM431 234h3v1h-3zM468 234h7v1h-7zM504 234h6v1h-6zM533 234h6v1h-6zM552 234h9v1h-9zM590 234h3v1h-3zM594 234h4v1h-4zM634 234h3v1h-3zM394 235h3v1h-3zM432 235h4v1h-4zM503 235h4v1h-4zM536 235h7v1h-7zM547 235h11v1h-11zM589 235h3v1h-3zM596 235h3v1h-3zM634 235h2v1h-2zM395 236h2v1h-2zM433 236h5v1h-5zM502 236h3v1h-3zM538 236h15v1h-15zM588 236h3v1h-3zM597 236h2v1h-2zM634 236h2v1h-2zM395 237h3v1h-3zM435 237h6v1h-6zM501 237h3v1h-3zM542 237h6v1h-6zM587 237h3v1h-3zM597 237h3v1h-3zM634 237h2v1h-2zM396 238h3v1h-3zM437 238h6v1h-6zM499 238h4v1h-4zM586 238h3v1h-3zM598 238h2v1h-2zM633 238h3v1h-3zM397 239h3v1h-3zM440 239h5v1h-5zM498 239h4v1h-4zM585 239h3v1h-3zM598 239h2v1h-2zM633 239h2v1h-2zM398 240h3v1h-3zM442 240h5v1h-5zM497 240h3v1h-3zM584 240h3v1h-3zM598 240h3v1h-3zM633 240h2v1h-2zM399 241h3v1h-3zM444 241h4v1h-4zM496 241h3v1h-3zM584 241h2v1h-2zM599 241h2v1h-2zM633 241h2v1h-2zM400 242h3v1h-3zM446 242h3v1h-3zM495 242h3v1h-3zM583 242h3v1h-3zM599 242h2v1h-2zM632 242h3v1h-3zM401 243h3v1h-3zM447 243h4v1h-4zM494 243h3v1h-3zM583 243h2v1h-2zM599 243h2v1h-2zM632 243h2v1h-2zM402 244h3v1h-3zM414 244h4v1h-4zM448 244h4v1h-4zM492 244h4v1h-4zM582 244h3v1h-3zM599 244h2v1h-2zM631 244h3v1h-3zM403 245h17v1h-17zM450 245h3v1h-3zM491 245h4v1h-4zM582 245h2v1h-2zM599 245h3v1h-3zM631 245h2v1h-2zM404 246h11v1h-11zM417 246h5v1h-5zM451 246h3v1h-3zM490 246h3v1h-3zM582 246h2v1h-2zM600 246h2v1h-2zM630 246h3v1h-3zM419 247h3v1h-3zM452 247h4v1h-4zM488 247h4v1h-4zM581 247h3v1h-3zM600 247h2v1h-2zM630 247h2v1h-2zM420 248h3v1h-3zM453 248h4v1h-4zM486 248h5v1h-5zM581 248h2v1h-2zM600 248h2v1h-2zM630 248h2v1h-2zM421 249h2v1h-2zM455 249h4v1h-4zM483 249h6v1h-6zM580 249h3v1h-3zM600 249h3v1h-3zM629 249h3v1h-3zM421 250h3v1h-3zM456 250h5v1h-5zM481 250h6v1h-6zM580 250h2v1h-2zM601 250h2v1h-2zM629 250h2v1h-2zM422 251h2v1h-2zM458 251h5v1h-5zM479 251h5v1h-5zM579 251h3v1h-3zM601 251h2v1h-2zM628 251h3v1h-3zM422 252h3v1h-3zM460 252h4v1h-4zM478 252h4v1h-4zM579 252h2v1h-2zM601 252h2v1h-2zM628 252h2v1h-2zM423 253h2v1h-2zM462 253h4v1h-4zM476 253h4v1h-4zM578 253h3v1h-3zM601 253h3v1h-3zM627 253h3v1h-3zM423 254h3v1h-3zM463 254h5v1h-5zM475 254h4v1h-4zM521 254h6v1h-6zM577 254h3v1h-3zM602 254h2v1h-2zM627 254h2v1h-2zM424 255h2v1h-2zM465 255h12v1h-12zM520 255h8v1h-8zM571 255h8v1h-8zM602 255h2v1h-2zM626 255h3v1h-3zM424 256h3v1h-3zM467 256h9v1h-9zM520 256h2v1h-2zM526 256h3v1h-3zM569 256h9v1h-9zM602 256h2v1h-2zM626 256h2v1h-2zM425 257h2v1h-2zM519 257h3v1h-3zM527 257h3v1h-3zM566 257h6v1h-6zM602 257h3v1h-3zM625 257h3v1h-3zM425 258h3v1h-3zM436 258h3v1h-3zM519 258h2v1h-2zM528 258h3v1h-3zM564 258h6v1h-6zM603 258h2v1h-2zM625 258h2v1h-2zM426 259h2v1h-2zM434 259h7v1h-7zM518 259h3v1h-3zM529 259h3v1h-3zM563 259h4v1h-4zM603 259h2v1h-2zM624 259h3v1h-3zM426 260h3v1h-3zM432 260h5v1h-5zM438 260h5v1h-5zM518 260h2v1h-2zM530 260h2v1h-2zM543 260h5v1h-5zM562 260h3v1h-3zM603 260h3v1h-3zM623 260h3v1h-3zM427 261h8v1h-8zM440 261h4v1h-4zM517 261h3v1h-3zM530 261h3v1h-3zM542 261h8v1h-8zM562 261h2v1h-2zM604 261h2v1h-2zM623 261h2v1h-2zM428 262h5v1h-5zM442 262h3v1h-3zM517 262h2v1h-2zM531 262h4v1h-4zM541 262h3v1h-3zM547 262h4v1h-4zM561 262h3v1h-3zM604 262h3v1h-3zM622 262h3v1h-3zM429 263h2v1h-2zM443 263h2v1h-2zM516 263h3v1h-3zM532 263h11v1h-11zM549 263h4v1h-4zM561 263h2v1h-2zM605 263h2v1h-2zM620 263h4v1h-4zM443 264h3v1h-3zM515 264h3v1h-3zM534 264h8v1h-8zM550 264h13v1h-13zM605 264h3v1h-3zM618 264h5v1h-5zM444 265h3v1h-3zM510 265h7v1h-7zM552 265h10v1h-10zM606 265h3v1h-3zM617 265h4v1h-4zM445 266h3v1h-3zM508 266h8v1h-8zM607 266h2v1h-2zM615 266h4v1h-4zM446 267h2v1h-2zM507 267h4v1h-4zM607 267h11v1h-11zM446 268h3v1h-3zM506 268h3v1h-3zM608 268h8v1h-8zM447 269h2v1h-2zM506 269h2v1h-2zM447 270h3v1h-3zM505 270h3v1h-3zM448 271h2v1h-2zM504 271h3v1h-3zM448 272h3v1h-3zM504 272h2v1h-2zM449 273h2v1h-2zM503 273h3v1h-3zM449 274h3v1h-3zM503 274h2v1h-2zM450 275h2v1h-2zM503 275h2v1h-2zM450 276h3v1h-3zM502 276h3v1h-3zM451 277h2v1h-2zM469 277h5v1h-5zM502 277h2v1h-2zM451 278h3v1h-3zM467 278h11v1h-11zM501 278h3v1h-3zM452 279h4v1h-4zM465 279h5v1h-5zM473 279h7v1h-7zM501 279h2v1h-2zM453 280h15v1h-15zM477 280h9v1h-9zM500 280h3v1h-3zM455 281h11v1h-11zM479 281h8v1h-8zM500 281h2v1h-2zM485 282h3v1h-3zM499 282h3v1h-3zM486 283h3v1h-3zM498 283h3v1h-3zM487 284h3v1h-3zM498 284h2v1h-2zM488 285h3v1h-3zM497 285h3v1h-3zM489 286h4v1h-4zM495 286h4v1h-4zM490 287h8v1h-8zM492 288h4v1h-4z" fill="#7b68ee" shape-rendering="crispEdges"/>
<g shape-rendering="crispEdges">
<rect x="0" y="343" width="3" height="10" fill="#008000"/>
<rect x="4" y="343" width="3" height="10" fill="#008000"/>
<rect x="8" y="343" width="3" height="10" fill="#008000"/>
<rect x="12" y="343" width="3" height="10" fill="#008000"/>
<rect x="16" y="340" width="3" height="13" fill="#008000"/>
<rect x="20" y="338" width="3" height="15" fill="#008000"/>
<rect x="24" y="339" width="3" height="14" fill="#008000"/>
<rect x="28" y="337" width="3" height="16" fill="#008000"/>
<rect x="32" y="333" width="3" height="20" fill="#008000"/>
<rect x="36" y="330" width="3" height="23" fill="#008000"/>
<rect x="40" y="327" width="3" height="26" fill="#008000"/>
<rect x="44" y="327" width="3" height="26" fill="#008000"/>
<rect x="48" y="325" width="3" height="28" fill="#008000"/>
<rect x="52" y="325" width="3" height="28" fill="#008000"/>
<rect x="56" y="325" width="3" height="28" fill="#008000"/>
<rect x="60" y="328" width="3" height="25" fill="#008000"/>
<rect x="64" y="332" width="3" height="21" fill="#008000"/>
<rect x="68" y="336" width="3" height="17" fill="#008000"/>
<rect x="72" y="338" width="3" height="15" fill="#008000"/>
<rect x="76" y="341" width="3" height="12" fill="#008000"/>
<rect x="80" y="341" width="3" height="12" fill="#008000"/>
<rect x="84" y="340" width="3" height="13" fill="#008000"/>
<rect x="88" y="341" width="3" height="12" fill="#008000"/>
<rect x="92" y="344" width="3" height="9" fill="#008000"/>
<rect x="96" y="347" width="3" height="6" fill="#008000"/>
<rect x="100" y="349" width="3" height="4" fill="#008000"/>
<rect x="104" y="348" width="3" height="5" fill="#008000"/>
<rect x="108" y="347" width="3" height="6" fill="#008000"/>
<rect x="112" y="344" width="3" height="9" fill="#008000"/>
<rect x="116" y="343" width="3" height="10" fill="#008000"/>
<rect x="120" y="342" width="3" height="11" fill="#008000"/>
<rect x="124" y="340" width="3" height="13" fill="#008000"/>
<rect x="128" y="339" width="3" height="14" fill="#008000"/>
<rect x="132" y="341" width="3" height="12" fill="#008000"/>
<rect x="136" y="340" width="3" height="13" fill="#008000"/>
<rect x="140" y="340" width="3" height="13" fill="#008000"/>
<rect x="144" y="340" width="3" height="13" fill="#008000"/>
<rect x="148" y="340" width="3" height="13" fill="#008000"/>
<rect x="152" y="342" width="3" height="11" fill="#008000"/>
<rect x="156" y="346" width="3" height="7" fill="#008000"/>
<rect x="160" y="350" width="3" height="3" fill="#008000"/>
<rect x="164" y="353" width="3" height="1" fill="#008000"/>
<rect x="168" y="353" width="3" height="5" fill="#008000"/>
<rect x="172" y="353" width="3" height="8" fill="#008000"/>
<rect x="176" y="353" width="3" height="9" fill="#008000"/>
<rect x="180" y="353" width="3" height="12" fill="#008000"/>
<rect x="184" y="353" width="3" height="14" fill="#008000"/>
<rect x="188" y="353" width="3" height="14" fill="#008000"/>
<rect x="192" y="353" width="3" height="15" fill="#008000"/>
<rect x="196" y="353" width="3" height="16" fill="#008000"/>
<rect x="200" y="353" width="3" height="18" fill="#008000"/>
<rect x="204" y="353" width="3" height="20" fill="#008000"/>
<rect x="208" y="353" width="3" height="20" fill="#008000"/>
<rect x="212" y="353" width="3" height="21" fill="#008000"/>
<rect x="216" y="353" width="3" height="23" fill="#008000"/>
<rect x="220" y="353" width="3" height="24" fill="#008000"/>
<rect x="224" y="353" width="3" height="22" fill="#008000"/>
<rect x="228" y="353" width="3" height="22" fill="#008000"/>
<rect x="232" y="353" width="3" height="21" fill="#008000"/>
<rect x="236" y="353" width="3" height="21" fill="#008000"/>
<rect x="240" y="353" width="3" height="18" fill="#008000"/>
<rect x="244" y="353" width="3" height="15" fill="#008000"/>
<rect x="248" y="353" width="3" height="12" fill="#008000"/>
<rect x="252" y="353" width="3" height="12" fill="#008000"/>
<rect x="256" y="353" width="3" height="10" fill="#008000"/>
<rect x="260" y="353" width="3" height="6" fill="#008000"/>
<rect x="264" y="353" width="3" height="12" fill="#008000"/>
<rect x="268" y="353" width="3" height="13" fill="#008000"/>
<rect x="272" y="353" width="3" height="16" fill="#008000"/>
<rect x="276" y="353" width="3" height="21" fill="#008000"/>
<rect x="280" y="353" width="3" height="25" fill="#008000"/>
<rect x="284" y="353" width="3" height="30" fill="#008000"/>
<rect x="288" y="353" width="3" height="34" fill="#008000"/>
<rect x="292" y="353" width="3" height="36" fill="#008000"/>
<rect x="296" y="353" width="3" height="33" fill="#008000"/>
<rect x="300" y="353" width="3" height="31" fill="#008000"/>
<rect x="304" y="353" width="3" height="31" fill="#008000"/>
<rect x="308" y="353" width="3" height="34" fill="#008000"/>
<rect x="312" y="353" width="3" height="38" fill="#008000"/>
<rect x="316" y="353" width="3" height="36" fill="#008000"/>
<rect x="320" y="353" width="3" height="34" fill="#008000"/>
<rect x="324" y="353" width="3" height="29" fill="#008000"/>
<rect x="328" y="353" width="3" height="26" fill="#008000"/>
<rect x="332" y="353" width="3" height="23" fill="#008000"/>
<rect x="336" y="353" width="3" height="23" fill="#008000"/>
<rect x="340" y="353" width="3" height="23" fill="#008000"/>
<rect x="344" y="353" width="3" height="22" fill="#008000"/>
<rect x="348" y="353" width="3" height="18" fill="#008000"/>
<rect x="352" y="353" width="3" height="16" fill="#008000"/>
<rect x="356" y="353" width="3" height="15" fill="#008000"/>
<rect x="360" y="353" width="3" height="15" fill="#008000"/>
<rect x="364" y="353" width="3" height="16" fill="#008000"/>
<rect x="368" y="353" width="3" height="18" fill="#008000"/>
<rect x="372" y="353" width="3" height="17" fill="#008000"/>
<rect x="376" y="353" width="3" height="16" fill="#008000"/>
<rect x="380" y="353" width="3" height="16" fill="#008000"/>
<rect x="384" y="353" width="3" height="22" fill="#008000"/>
<rect x="388" y="353" width="3" height="24" fill="#008000"/>
<rect x="392" y="353" width="3" height="23" fill="#008000"/>
<rect x="396" y="353" width="3" height="22" fill="#008000"/>
<rect x="400" y="353" width="3" height="22" fill="#008000"/>
<rect x="404" y="353" width="3" height="20" fill="#008000"/>
<rect x="408" y="353" width="3" height="19" fill="#008000"/>
<rect x="412" y="353" width="3" height="18" fill="#008000"/>
<rect x="416" y="353" width="3" height="20" fill="#008000"/>
<rect x="420" y="353" width="3" height="24" fill="#008000"/>
<rect x="424" y="353" width="3" height="25" fill="#008000"/>
<rect x="428" y="353" width="3" height="22" fill="#008000"/>
<rect x="432" y="353" width="3" height="21" fill="#008000"/>
<rect x="436" y="353" width="3" height="21" fill="#008000"/>
<rect x="440" y="353" width="3" height="21" fill="#008000"/>
<rect x="444" y="353" width="3" height="24" fill="#008000"/>
<rect x="448" y="353" width="3" height="25" fill="#008000"/>
<rect x="452" y="353" width="3" height="23" fill="#008000"/>
<rect x="456" y="353" width="3" height="21" fill="#008000"/>
<rect x="460" y="353" width="3" height="20" fill="#008000"/>
<rect x="464" y="353" width="3" height="19" fill="#008000"/>
<rect x="468" y="353" width="3" height="13" fill="#008000"/>
<rect x="472" y="353" width="3" height="8" fill="#008000"/>
<rect x="476" y="353" width="3" height="5" fill="#008000"/>
<rect x="480" y="353" width="3" height="3" fill="#008000"/>
<rect x="484" y="350" width="3" height="3" fill="#008000"/>
<rect x="488" y="348" width="3" height="5" fill="#008000"/>
<rect x="492" y="349" width="3" height="4" fill="#008000"/>
<rect x="496" y="350" width="3" height="3" fill="#008000"/>
<rect x="500" y="352" width="3" height="1" fill="#008000"/>
<rect x="504" y="353" width="3" height="2" fill="#008000"/>
<rect x="508" y="353" width="3" height="5" fill="#008000"/>
<rect x="512" y="353" width="3" height="5" fill="#008000"/>
<rect x="516" y="353" width="3" height="3" fill="#008000"/>
<rect x="520" y="353" width="3" height="3" fill="#008000"/>
<rect x="524" y="353" width="3" height="6" fill="#008000"/>
<rect x="528" y="353" width="3" height="8" fill="#008000"/>
<rect x="532" y="353" width="3" height="7" fill="#008000"/>
<rect x="536" y="353" width="3" height="5" fill="#008000"/>
<rect x="540" y="353" width="3" height="1" fill="#008000"/>
<rect x="544" y="348" width="3" height="5" fill="#008000"/>
<rect x="548" y="346" width="3" height="7" fill="#008000"/>
<rect x="552" y="347" width="3" height="6" fill="#008000"/>
<rect x="556" y="348" width="3" height="5" fill="#008000"/>
<rect x="560" y="345" width="3" height="8" fill="#008000"/>
<rect x="564" y="346" width="3" height="7" fill="#008000"/>
<rect x="568" y="346" width="3" height="7" fill="#008000"/>
<rect x="572" y="344" width="3" height="9" fill="#008000"/>
<rect x="576" y="344" width="3" height="9" fill="#008000"/>
<rect x="580" y="349" width="3" height="4" fill="#008000"/>
<rect x="584" y="352" width="3" height="1" fill="#008000"/>
<rect x="588" y="350" width="3" height="3" fill="#008000"/>
<rect x="592" y="342" width="3" height="11" fill="#008000"/>
<rect x="596" y="330" width="3" height="23" fill="#008000"/>
<rect x="600" y="323" width="3" height="30" fill="#008000"/>
<rect x="604" y="318" width="3" height="35" fill="#008000"/>
<rect x="608" y="314" width="3" height="39" fill="#008000"/>
<rect x="612" y="313" width="3" height="40" fill="#008000"/>
<rect x="616" y="310" width="3" height="43" fill="#008000"/>
<rect x="620" y="310" width="3" height="43" fill="#008000"/>
<rect x="624" y="312" width="3" height="41" fill="#008000"/>
<rect x="628" y="313" width="3" height="40" fill="#008000"/>
<rect x="632" y="314" width="3" height="39" fill="#008000"/>
<rect x="636" y="314" width="3" height="39" fill="#008000"/>
<rect x="640" y="313" width="3" height="40" fill="#008000"/>
<rect x="644" y="314" width="3" height="39" fill="#008000"/>
</g>
<path d="M624 311h3v1h-3zM630 311h1v1h-1zM620 312h1v1h-1zM631 312h2v1h-2zM618 313h2v1h-2zM636 313h3v1h-3zM642 314h3v1h-3zM614 316h1v1h-1zM613 317h1v1h-1zM612 318h1v1h-1zM608 322h1v1h-1zM608 323h1v1h-1zM607 324h1v1h-1zM53 326h3v1h-3zM59 326h3v1h-3zM48 327h2v1h-2zM47 328h1v1h-1zM65 328h1v1h-1zM605 328h1v1h-1zM66 329h2v1h-2zM605 329h1v1h-1zM43 330h1v1h-1zM604 330h1v1h-1zM42 331h1v1h-1zM41 332h1v1h-1zM71 332h1v1h-1zM72 333h1v1h-1zM73 334h1v1h-1zM602 334h1v1h-1zM36 335h2v1h-2zM602 335h1v1h-1zM35 336h1v1h-1zM601 336h1v1h-1zM77 337h1v1h-1zM30 338h2v1h-2zM78 338h2v1h-2zM29 339h1v1h-1zM23 340h3v1h-3zM83 340h3v1h-3zM131 340h3v1h-3zM137 340h3v1h-3zM143 340h3v1h-3zM149 340h3v1h-3zM599 340h1v1h-1zM19 341h1v1h-1zM89 341h2v1h-2zM127 341h1v1h-1zM155 341h1v1h-1zM599 341h1v1h-1zM17 342h2v1h-2zM91 342h1v1h-1zM125 342h2v1h-2zM156 342h2v1h-2zM598 342h1v1h-1zM7 343h1v1h-1zM11 343h3v1h-3zM95 343h3v1h-3zM5 344h2v1h-2zM119 344h3v1h-3zM161 344h1v1h-1zM1 345h1v1h-1zM101 345h1v1h-1zM162 345h1v1h-1zM571 345h1v1h-1zM575 345h3v1h-3zM102 346h2v1h-2zM114 346h2v1h-2zM163 346h1v1h-1zM569 346h2v1h-2zM581 346h2v1h-2zM595 346h1v1h-1zM113 347h1v1h-1zM557 347h3v1h-3zM563 347h3v1h-3zM583 347h1v1h-1zM594 347h1v1h-1zM107 348h3v1h-3zM587 348h1v1h-1zM593 348h1v1h-1zM497 349h2v1h-2zM552 349h2v1h-2zM588 349h2v1h-2zM167 350h1v1h-1zM499 350h1v1h-1zM551 350h1v1h-1zM168 351h1v1h-1zM492 351h2v1h-2zM503 351h3v1h-3zM169 352h1v1h-1zM491 352h1v1h-1zM547 353h1v1h-1zM487 354h1v1h-1zM509 354h1v1h-1zM546 354h1v1h-1zM486 355h1v1h-1zM510 355h2v1h-2zM545 355h1v1h-1zM173 356h1v1h-1zM485 356h1v1h-1zM174 357h1v1h-1zM515 357h3v1h-3zM521 357h3v1h-3zM175 358h1v1h-1zM527 358h3v1h-3zM539 358h3v1h-3zM533 359h3v1h-3zM179 360h1v1h-1zM481 360h1v1h-1zM180 361h2v1h-2zM480 361h1v1h-1zM479 362h1v1h-1zM263 363h3v1h-3zM269 363h1v1h-1zM185 364h2v1h-2zM258 364h2v1h-2zM270 364h2v1h-2zM187 365h1v1h-1zM257 365h1v1h-1zM191 366h1v1h-1zM475 366h1v1h-1zM192 367h2v1h-2zM252 367h2v1h-2zM275 367h2v1h-2zM474 367h1v1h-1zM197 368h2v1h-2zM251 368h1v1h-1zM277 368h1v1h-1zM365 368h2v1h-2zM473 368h1v1h-1zM199 369h1v1h-1zM360 369h2v1h-2zM367 369h1v1h-1zM371 369h3v1h-3zM203 370h3v1h-3zM247 370h1v1h-1zM359 370h1v1h-1zM377 370h3v1h-3zM383 370h3v1h-3zM209 371h1v1h-1zM246 371h1v1h-1zM469 371h1v1h-1zM210 372h2v1h-2zM245 372h1v1h-1zM281 372h1v1h-1zM354 372h2v1h-2zM389 372h1v1h-1zM413 372h3v1h-3zM467 372h2v1h-2zM239 373h3v1h-3zM282 373h1v1h-1zM353 373h1v1h-1zM390 373h2v1h-2zM407 373h3v1h-3zM419 373h3v1h-3zM215 374h3v1h-3zM235 374h1v1h-1zM283 374h1v1h-1zM347 374h3v1h-3zM439 374h1v1h-1zM463 374h1v1h-1zM221 375h3v1h-3zM233 375h2v1h-2zM343 375h1v1h-1zM395 375h1v1h-1zM402 375h2v1h-2zM425 375h2v1h-2zM437 375h2v1h-2zM443 375h3v1h-3zM461 375h2v1h-2zM227 376h3v1h-3zM341 376h2v1h-2zM396 376h2v1h-2zM401 376h1v1h-1zM427 376h1v1h-1zM431 376h3v1h-3zM449 376h3v1h-3zM455 376h3v1h-3zM287 378h1v1h-1zM337 378h1v1h-1zM288 379h1v1h-1zM335 379h2v1h-2zM289 380h1v1h-1zM331 382h1v1h-1zM330 383h1v1h-1zM293 384h1v1h-1zM329 384h1v1h-1zM294 385h2v1h-2zM305 385h3v1h-3zM299 386h3v1h-3zM311 386h3v1h-3zM323 387h3v1h-3zM317 388h3v1h-3z" fill="#ff00ff" shape-rendering="crispEdges"/>
<text x="4.53" y="409" textLength="122.66" lengthAdjust="spacingAndGlyphs" fill="#000" stroke="#000">Stoch(5,3,3) 88.4995 75.2680</text>
<path d="M36 400h6v1h-6zM36 401h7v1h-7zM35 402h3v1h-3zM41 402h2v1h-2zM596 402h6v1h-6zM35 403h2v1h-2zM41 403h3v1h-3zM596 403h7v1h-7zM35 404h2v1h-2zM42 404h2v1h-2zM596 404h2v1h-2zM601 404h4v1h-4zM35 405h2v1h-2zM42 405h3v1h-3zM595 405h3v1h-3zM602 405h4v1h-4zM34 406h3v1h-3zM43 406h2v1h-2zM546 406h4v1h-4zM595 406h2v1h-2zM604 406h4v1h-4zM34 407h2v1h-2zM43 407h3v1h-3zM544 407h7v1h-7zM595 407h2v1h-2zM605 407h6v1h-6zM644 407h2v1h-2zM34 408h2v1h-2zM44 408h3v1h-3zM332 408h2v1h-2zM544 408h3v1h-3zM549 408h2v1h-2zM595 408h2v1h-2zM607 408h8v1h-8zM644 408h2v1h-2zM34 409h2v1h-2zM45 409h3v1h-3zM332 409h2v1h-2zM476 409h2v1h-2zM543 409h3v1h-3zM549 409h3v1h-3zM595 409h2v1h-2zM610 409h8v1h-8zM643 409h3v1h-3zM33 410h3v1h-3zM46 410h3v1h-3zM248 410h2v1h-2zM331 410h4v1h-4zM475 410h4v1h-4zM543 410h2v1h-2zM550 410h3v1h-3zM595 410h2v1h-2zM614 410h5v1h-5zM643 410h2v1h-2zM33 411h2v1h-2zM47 411h3v1h-3zM247 411h4v1h-4zM331 411h4v1h-4zM474 411h7v1h-7zM542 411h3v1h-3zM551 411h2v1h-2zM594 411h3v1h-3zM617 411h2v1h-2zM642 411h3v1h-3zM33 412h2v1h-2zM48 412h3v1h-3zM56 412h2v1h-2zM116 412h2v1h-2zM247 412h4v1h-4zM330 412h5v1h-5zM474 412h2v1h-2zM478 412h12v1h-12zM542 412h2v1h-2zM551 412h3v1h-3zM594 412h2v1h-2zM617 412h3v1h-3zM642 412h2v1h-2zM33 413h2v1h-2zM49 413h3v1h-3zM54 413h4v1h-4zM116 413h3v1h-3zM246 413h6v1h-6zM330 413h2v1h-2zM333 413h3v1h-3zM473 413h3v1h-3zM480 413h10v1h-10zM542 413h2v1h-2zM552 413h2v1h-2zM594 413h2v1h-2zM618 413h3v1h-3zM641 413h3v1h-3zM32 414h3v1h-3zM50 414h8v1h-8zM115 414h5v1h-5zM246 414h2v1h-2zM250 414h2v1h-2zM329 414h3v1h-3zM334 414h2v1h-2zM472 414h3v1h-3zM488 414h3v1h-3zM541 414h3v1h-3zM552 414h3v1h-3zM594 414h2v1h-2zM619 414h2v1h-2zM641 414h2v1h-2zM20 415h2v1h-2zM32 415h2v1h-2zM51 415h4v1h-4zM56 415h3v1h-3zM115 415h2v1h-2zM118 415h2v1h-2zM245 415h3v1h-3zM250 415h3v1h-3zM329 415h2v1h-2zM334 415h3v1h-3zM471 415h3v1h-3zM489 415h2v1h-2zM541 415h2v1h-2zM553 415h2v1h-2zM594 415h2v1h-2zM619 415h3v1h-3zM640 415h3v1h-3zM20 416h3v1h-3zM31 416h3v1h-3zM52 416h2v1h-2zM57 416h2v1h-2zM114 416h3v1h-3zM118 416h3v1h-3zM245 416h2v1h-2zM251 416h2v1h-2zM328 416h3v1h-3zM335 416h2v1h-2zM471 416h2v1h-2zM489 416h3v1h-3zM540 416h3v1h-3zM553 416h2v1h-2zM593 416h3v1h-3zM620 416h2v1h-2zM640 416h2v1h-2zM20 417h4v1h-4zM31 417h2v1h-2zM57 417h2v1h-2zM114 417h2v1h-2zM119 417h3v1h-3zM244 417h3v1h-3zM251 417h3v1h-3zM328 417h2v1h-2zM335 417h2v1h-2zM470 417h3v1h-3zM490 417h2v1h-2zM540 417h2v1h-2zM553 417h3v1h-3zM593 417h2v1h-2zM620 417h3v1h-3zM640 417h2v1h-2zM19 418h6v1h-6zM30 418h3v1h-3zM57 418h2v1h-2zM113 418h3v1h-3zM120 418h3v1h-3zM244 418h2v1h-2zM252 418h2v1h-2zM327 418h3v1h-3zM335 418h3v1h-3zM470 418h2v1h-2zM490 418h3v1h-3zM540 418h2v1h-2zM554 418h2v1h-2zM593 418h2v1h-2zM621 418h2v1h-2zM639 418h3v1h-3zM19 419h2v1h-2zM23 419h3v1h-3zM29 419h3v1h-3zM57 419h3v1h-3zM113 419h2v1h-2zM121 419h3v1h-3zM243 419h3v1h-3zM252 419h3v1h-3zM327 419h2v1h-2zM336 419h2v1h-2zM469 419h3v1h-3zM491 419h2v1h-2zM540 419h2v1h-2zM554 419h2v1h-2zM593 419h2v1h-2zM621 419h2v1h-2zM639 419h2v1h-2zM19 420h2v1h-2zM24 420h4v1h-4zM29 420h2v1h-2zM58 420h2v1h-2zM112 420h3v1h-3zM122 420h3v1h-3zM243 420h2v1h-2zM253 420h4v1h-4zM326 420h3v1h-3zM336 420h2v1h-2zM469 420h2v1h-2zM491 420h3v1h-3zM540 420h2v1h-2zM554 420h2v1h-2zM593 420h2v1h-2zM621 420h3v1h-3zM639 420h2v1h-2zM19 421h2v1h-2zM25 421h6v1h-6zM58 421h2v1h-2zM112 421h2v1h-2zM123 421h7v1h-7zM243 421h2v1h-2zM254 421h8v1h-8zM326 421h2v1h-2zM336 421h2v1h-2zM468 421h3v1h-3zM492 421h2v1h-2zM539 421h3v1h-3zM554 421h3v1h-3zM593 421h2v1h-2zM622 421h2v1h-2zM638 421h3v1h-3zM18 422h3v1h-3zM27 422h3v1h-3zM58 422h2v1h-2zM112 422h2v1h-2zM124 422h7v1h-7zM243 422h2v1h-2zM256 422h6v1h-6zM325 422h3v1h-3zM336 422h3v1h-3zM468 422h2v1h-2zM492 422h2v1h-2zM520 422h2v1h-2zM539 422h2v1h-2zM555 422h2v1h-2zM592 422h3v1h-3zM622 422h3v1h-3zM638 422h2v1h-2zM1 423h1v1h-1zM18 423h2v1h-2zM58 423h3v1h-3zM112 423h2v1h-2zM129 423h2v1h-2zM242 423h3v1h-3zM260 423h3v1h-3zM325 423h2v1h-2zM337 423h2v1h-2zM467 423h3v1h-3zM492 423h2v1h-2zM519 423h5v1h-5zM539 423h2v1h-2zM555 423h2v1h-2zM592 423h2v1h-2zM623 423h2v1h-2zM638 423h2v1h-2zM1 424h2v1h-2zM18 424h2v1h-2zM59 424h2v1h-2zM111 424h3v1h-3zM129 424h3v1h-3zM242 424h2v1h-2zM261 424h2v1h-2zM324 424h3v1h-3zM337 424h2v1h-2zM467 424h2v1h-2zM492 424h3v1h-3zM519 424h7v1h-7zM539 424h2v1h-2zM555 424h3v1h-3zM592 424h2v1h-2zM623 424h2v1h-2zM638 424h2v1h-2zM1 425h3v1h-3zM18 425h2v1h-2zM59 425h2v1h-2zM111 425h2v1h-2zM130 425h2v1h-2zM242 425h2v1h-2zM261 425h2v1h-2zM324 425h2v1h-2zM337 425h2v1h-2zM356 425h2v1h-2zM460 425h2v1h-2zM466 425h3v1h-3zM493 425h2v1h-2zM518 425h3v1h-3zM523 425h3v1h-3zM539 425h2v1h-2zM556 425h2v1h-2zM592 425h2v1h-2zM623 425h3v1h-3zM637 425h3v1h-3zM2 426h2v1h-2zM17 426h3v1h-3zM59 426h2v1h-2zM111 426h2v1h-2zM130 426h3v1h-3zM135 426h3v1h-3zM144 426h2v1h-2zM241 426h3v1h-3zM261 426h2v1h-2zM324 426h2v1h-2zM337 426h3v1h-3zM354 426h4v1h-4zM460 426h3v1h-3zM466 426h2v1h-2zM493 426h2v1h-2zM518 426h2v1h-2zM524 426h3v1h-3zM539 426h2v1h-2zM556 426h3v1h-3zM570 426h8v1h-8zM592 426h2v1h-2zM624 426h2v1h-2zM637 426h2v1h-2zM2 427h3v1h-3zM17 427h2v1h-2zM59 427h3v1h-3zM111 427h2v1h-2zM131 427h7v1h-7zM144 427h3v1h-3zM241 427h2v1h-2zM261 427h3v1h-3zM323 427h3v1h-3zM338 427h2v1h-2zM353 427h6v1h-6zM412 427h2v1h-2zM459 427h5v1h-5zM465 427h3v1h-3zM493 427h2v1h-2zM517 427h3v1h-3zM525 427h2v1h-2zM538 427h3v1h-3zM557 427h3v1h-3zM568 427h10v1h-10zM592 427h2v1h-2zM624 427h2v1h-2zM637 427h2v1h-2zM3 428h3v1h-3zM17 428h2v1h-2zM60 428h2v1h-2zM111 428h2v1h-2zM131 428h8v1h-8zM143 428h5v1h-5zM241 428h2v1h-2zM262 428h2v1h-2zM323 428h2v1h-2zM338 428h2v1h-2zM352 428h3v1h-3zM357 428h2v1h-2zM412 428h2v1h-2zM459 428h2v1h-2zM462 428h5v1h-5zM493 428h2v1h-2zM517 428h2v1h-2zM525 428h2v1h-2zM538 428h2v1h-2zM558 428h3v1h-3zM567 428h4v1h-4zM576 428h3v1h-3zM591 428h3v1h-3zM624 428h3v1h-3zM636 428h3v1h-3zM4 429h3v1h-3zM17 429h2v1h-2zM60 429h2v1h-2zM111 429h2v1h-2zM132 429h2v1h-2zM137 429h2v1h-2zM143 429h2v1h-2zM146 429h2v1h-2zM241 429h2v1h-2zM262 429h2v1h-2zM323 429h2v1h-2zM338 429h2v1h-2zM352 429h2v1h-2zM357 429h2v1h-2zM411 429h3v1h-3zM459 429h2v1h-2zM463 429h4v1h-4zM493 429h3v1h-3zM516 429h3v1h-3zM525 429h3v1h-3zM538 429h2v1h-2zM559 429h3v1h-3zM566 429h3v1h-3zM577 429h2v1h-2zM591 429h2v1h-2zM625 429h2v1h-2zM636 429h2v1h-2zM5 430h2v1h-2zM16 430h3v1h-3zM60 430h2v1h-2zM110 430h3v1h-3zM137 430h3v1h-3zM142 430h3v1h-3zM146 430h3v1h-3zM240 430h3v1h-3zM262 430h2v1h-2zM323 430h2v1h-2zM338 430h3v1h-3zM351 430h3v1h-3zM357 430h2v1h-2zM411 430h4v1h-4zM458 430h3v1h-3zM464 430h2v1h-2zM494 430h2v1h-2zM516 430h2v1h-2zM526 430h2v1h-2zM538 430h2v1h-2zM560 430h3v1h-3zM566 430h2v1h-2zM577 430h2v1h-2zM591 430h2v1h-2zM625 430h3v1h-3zM636 430h2v1h-2zM5 431h3v1h-3zM16 431h2v1h-2zM60 431h2v1h-2zM110 431h2v1h-2zM138 431h2v1h-2zM142 431h2v1h-2zM147 431h3v1h-3zM240 431h2v1h-2zM262 431h3v1h-3zM322 431h3v1h-3zM339 431h2v1h-2zM351 431h2v1h-2zM357 431h3v1h-3zM410 431h5v1h-5zM458 431h2v1h-2zM494 431h2v1h-2zM516 431h2v1h-2zM526 431h2v1h-2zM538 431h2v1h-2zM561 431h7v1h-7zM577 431h2v1h-2zM591 431h2v1h-2zM626 431h2v1h-2zM635 431h3v1h-3zM6 432h2v1h-2zM16 432h2v1h-2zM60 432h3v1h-3zM110 432h2v1h-2zM138 432h6v1h-6zM148 432h3v1h-3zM240 432h2v1h-2zM263 432h2v1h-2zM322 432h2v1h-2zM339 432h2v1h-2zM350 432h3v1h-3zM358 432h2v1h-2zM410 432h2v1h-2zM413 432h2v1h-2zM458 432h2v1h-2zM494 432h2v1h-2zM515 432h3v1h-3zM526 432h2v1h-2zM538 432h2v1h-2zM562 432h5v1h-5zM577 432h3v1h-3zM591 432h2v1h-2zM626 432h2v1h-2zM635 432h2v1h-2zM6 433h3v1h-3zM15 433h3v1h-3zM61 433h2v1h-2zM88 433h2v1h-2zM110 433h2v1h-2zM139 433h4v1h-4zM149 433h3v1h-3zM239 433h3v1h-3zM263 433h2v1h-2zM322 433h2v1h-2zM339 433h2v1h-2zM350 433h2v1h-2zM358 433h2v1h-2zM409 433h3v1h-3zM413 433h2v1h-2zM458 433h2v1h-2zM494 433h2v1h-2zM515 433h2v1h-2zM526 433h3v1h-3zM537 433h3v1h-3zM564 433h2v1h-2zM578 433h2v1h-2zM591 433h2v1h-2zM626 433h3v1h-3zM635 433h2v1h-2zM7 434h2v1h-2zM15 434h2v1h-2zM61 434h2v1h-2zM88 434h2v1h-2zM110 434h2v1h-2zM139 434h4v1h-4zM150 434h2v1h-2zM239 434h2v1h-2zM263 434h2v1h-2zM304 434h2v1h-2zM322 434h2v1h-2zM339 434h3v1h-3zM349 434h3v1h-3zM358 434h2v1h-2zM409 434h2v1h-2zM413 434h3v1h-3zM434 434h4v1h-4zM457 434h3v1h-3zM494 434h3v1h-3zM515 434h2v1h-2zM527 434h2v1h-2zM537 434h2v1h-2zM578 434h2v1h-2zM591 434h2v1h-2zM627 434h2v1h-2zM635 434h2v1h-2zM7 435h3v1h-3zM14 435h3v1h-3zM61 435h2v1h-2zM87 435h4v1h-4zM109 435h3v1h-3zM140 435h2v1h-2zM150 435h3v1h-3zM239 435h2v1h-2zM263 435h3v1h-3zM304 435h2v1h-2zM321 435h3v1h-3zM340 435h2v1h-2zM349 435h2v1h-2zM358 435h3v1h-3zM408 435h3v1h-3zM414 435h2v1h-2zM432 435h6v1h-6zM457 435h2v1h-2zM495 435h2v1h-2zM515 435h2v1h-2zM527 435h2v1h-2zM537 435h2v1h-2zM578 435h3v1h-3zM591 435h2v1h-2zM627 435h3v1h-3zM634 435h3v1h-3zM8 436h3v1h-3zM13 436h3v1h-3zM61 436h3v1h-3zM87 436h4v1h-4zM109 436h2v1h-2zM140 436h2v1h-2zM151 436h3v1h-3zM238 436h3v1h-3zM264 436h2v1h-2zM303 436h4v1h-4zM321 436h2v1h-2zM340 436h2v1h-2zM348 436h3v1h-3zM359 436h2v1h-2zM408 436h2v1h-2zM414 436h2v1h-2zM432 436h3v1h-3zM436 436h3v1h-3zM457 436h2v1h-2zM495 436h2v1h-2zM514 436h3v1h-3zM527 436h3v1h-3zM537 436h2v1h-2zM579 436h2v1h-2zM590 436h3v1h-3zM628 436h2v1h-2zM634 436h2v1h-2zM9 437h6v1h-6zM62 437h2v1h-2zM87 437h4v1h-4zM109 437h2v1h-2zM152 437h2v1h-2zM238 437h2v1h-2zM264 437h3v1h-3zM303 437h4v1h-4zM321 437h2v1h-2zM340 437h2v1h-2zM348 437h2v1h-2zM359 437h2v1h-2zM407 437h3v1h-3zM414 437h2v1h-2zM431 437h3v1h-3zM437 437h2v1h-2zM456 437h3v1h-3zM495 437h2v1h-2zM514 437h2v1h-2zM528 437h2v1h-2zM537 437h2v1h-2zM579 437h2v1h-2zM590 437h2v1h-2zM628 437h3v1h-3zM634 437h2v1h-2zM10 438h5v1h-5zM62 438h2v1h-2zM86 438h5v1h-5zM109 438h2v1h-2zM152 438h2v1h-2zM237 438h3v1h-3zM265 438h2v1h-2zM302 438h5v1h-5zM321 438h2v1h-2zM340 438h3v1h-3zM347 438h3v1h-3zM359 438h2v1h-2zM407 438h2v1h-2zM414 438h2v1h-2zM431 438h2v1h-2zM437 438h2v1h-2zM456 438h2v1h-2zM495 438h2v1h-2zM514 438h2v1h-2zM528 438h2v1h-2zM537 438h2v1h-2zM579 438h2v1h-2zM590 438h2v1h-2zM629 438h2v1h-2zM634 438h2v1h-2zM12 439h2v1h-2zM62 439h2v1h-2zM86 439h2v1h-2zM89 439h3v1h-3zM109 439h2v1h-2zM152 439h3v1h-3zM237 439h2v1h-2zM265 439h3v1h-3zM302 439h2v1h-2zM305 439h2v1h-2zM320 439h3v1h-3zM341 439h2v1h-2zM347 439h2v1h-2zM359 439h3v1h-3zM407 439h2v1h-2zM414 439h3v1h-3zM431 439h2v1h-2zM437 439h3v1h-3zM456 439h2v1h-2zM495 439h3v1h-3zM514 439h2v1h-2zM528 439h3v1h-3zM536 439h3v1h-3zM579 439h3v1h-3zM590 439h2v1h-2zM629 439h3v1h-3zM633 439h3v1h-3zM62 440h2v1h-2zM86 440h2v1h-2zM90 440h2v1h-2zM109 440h2v1h-2zM153 440h2v1h-2zM237 440h2v1h-2zM266 440h2v1h-2zM301 440h3v1h-3zM305 440h3v1h-3zM320 440h2v1h-2zM341 440h2v1h-2zM347 440h2v1h-2zM360 440h2v1h-2zM406 440h3v1h-3zM415 440h2v1h-2zM430 440h3v1h-3zM438 440h2v1h-2zM455 440h3v1h-3zM496 440h2v1h-2zM513 440h3v1h-3zM529 440h2v1h-2zM536 440h2v1h-2zM580 440h2v1h-2zM590 440h2v1h-2zM630 440h2v1h-2zM633 440h2v1h-2zM62 441h3v1h-3zM85 441h3v1h-3zM90 441h2v1h-2zM108 441h3v1h-3zM153 441h2v1h-2zM236 441h3v1h-3zM266 441h3v1h-3zM301 441h2v1h-2zM306 441h2v1h-2zM320 441h2v1h-2zM341 441h3v1h-3zM346 441h3v1h-3zM360 441h2v1h-2zM406 441h2v1h-2zM415 441h2v1h-2zM430 441h2v1h-2zM438 441h3v1h-3zM455 441h2v1h-2zM496 441h2v1h-2zM513 441h2v1h-2zM529 441h3v1h-3zM536 441h2v1h-2zM580 441h2v1h-2zM590 441h2v1h-2zM630 441h5v1h-5zM63 442h2v1h-2zM85 442h2v1h-2zM90 442h3v1h-3zM108 442h2v1h-2zM153 442h2v1h-2zM234 442h4v1h-4zM267 442h2v1h-2zM300 442h3v1h-3zM306 442h2v1h-2zM320 442h2v1h-2zM342 442h2v1h-2zM346 442h2v1h-2zM360 442h3v1h-3zM406 442h2v1h-2zM415 442h2v1h-2zM430 442h2v1h-2zM439 442h2v1h-2zM455 442h2v1h-2zM496 442h2v1h-2zM513 442h2v1h-2zM530 442h2v1h-2zM536 442h2v1h-2zM580 442h2v1h-2zM590 442h2v1h-2zM631 442h4v1h-4zM63 443h2v1h-2zM85 443h2v1h-2zM91 443h2v1h-2zM108 443h2v1h-2zM153 443h3v1h-3zM232 443h6v1h-6zM267 443h3v1h-3zM300 443h2v1h-2zM306 443h3v1h-3zM319 443h3v1h-3zM342 443h2v1h-2zM346 443h2v1h-2zM361 443h2v1h-2zM406 443h2v1h-2zM415 443h3v1h-3zM430 443h2v1h-2zM439 443h2v1h-2zM455 443h2v1h-2zM496 443h2v1h-2zM513 443h2v1h-2zM530 443h3v1h-3zM535 443h3v1h-3zM580 443h3v1h-3zM589 443h3v1h-3zM631 443h4v1h-4zM63 444h2v1h-2zM84 444h3v1h-3zM91 444h2v1h-2zM108 444h2v1h-2zM154 444h2v1h-2zM231 444h4v1h-4zM268 444h2v1h-2zM300 444h2v1h-2zM307 444h2v1h-2zM319 444h2v1h-2zM342 444h2v1h-2zM346 444h2v1h-2zM361 444h2v1h-2zM405 444h3v1h-3zM416 444h2v1h-2zM429 444h3v1h-3zM439 444h3v1h-3zM454 444h3v1h-3zM496 444h3v1h-3zM512 444h3v1h-3zM531 444h2v1h-2zM534 444h3v1h-3zM581 444h2v1h-2zM589 444h2v1h-2zM632 444h2v1h-2zM63 445h3v1h-3zM84 445h2v1h-2zM91 445h2v1h-2zM108 445h2v1h-2zM154 445h2v1h-2zM231 445h2v1h-2zM268 445h3v1h-3zM300 445h2v1h-2zM307 445h2v1h-2zM318 445h3v1h-3zM342 445h6v1h-6zM361 445h2v1h-2zM405 445h2v1h-2zM416 445h2v1h-2zM429 445h2v1h-2zM440 445h2v1h-2zM454 445h2v1h-2zM497 445h2v1h-2zM512 445h2v1h-2zM531 445h5v1h-5zM581 445h2v1h-2zM589 445h2v1h-2zM632 445h2v1h-2zM64 446h2v1h-2zM84 446h2v1h-2zM91 446h3v1h-3zM107 446h3v1h-3zM154 446h2v1h-2zM230 446h3v1h-3zM269 446h2v1h-2zM299 446h3v1h-3zM307 446h2v1h-2zM318 446h2v1h-2zM343 446h4v1h-4zM361 446h3v1h-3zM405 446h2v1h-2zM416 446h2v1h-2zM429 446h2v1h-2zM440 446h2v1h-2zM454 446h2v1h-2zM497 446h2v1h-2zM512 446h2v1h-2zM532 446h3v1h-3zM581 446h2v1h-2zM589 446h2v1h-2zM64 447h2v1h-2zM83 447h3v1h-3zM92 447h2v1h-2zM107 447h2v1h-2zM154 447h2v1h-2zM229 447h3v1h-3zM269 447h2v1h-2zM299 447h2v1h-2zM307 447h3v1h-3zM317 447h3v1h-3zM343 447h4v1h-4zM362 447h2v1h-2zM380 447h2v1h-2zM404 447h3v1h-3zM416 447h2v1h-2zM428 447h3v1h-3zM440 447h3v1h-3zM453 447h3v1h-3zM497 447h2v1h-2zM511 447h3v1h-3zM532 447h2v1h-2zM581 447h2v1h-2zM589 447h2v1h-2zM64 448h2v1h-2zM83 448h2v1h-2zM92 448h2v1h-2zM107 448h2v1h-2zM154 448h3v1h-3zM229 448h2v1h-2zM269 448h2v1h-2zM299 448h2v1h-2zM308 448h2v1h-2zM317 448h2v1h-2zM343 448h4v1h-4zM362 448h2v1h-2zM380 448h2v1h-2zM404 448h2v1h-2zM416 448h3v1h-3zM428 448h2v1h-2zM441 448h2v1h-2zM453 448h2v1h-2zM497 448h2v1h-2zM511 448h2v1h-2zM581 448h2v1h-2zM589 448h2v1h-2zM64 449h2v1h-2zM83 449h2v1h-2zM92 449h2v1h-2zM107 449h2v1h-2zM155 449h2v1h-2zM228 449h3v1h-3zM269 449h3v1h-3zM299 449h2v1h-2zM308 449h2v1h-2zM316 449h3v1h-3zM344 449h2v1h-2zM362 449h2v1h-2zM379 449h4v1h-4zM403 449h3v1h-3zM417 449h2v1h-2zM428 449h2v1h-2zM441 449h3v1h-3zM453 449h2v1h-2zM497 449h3v1h-3zM511 449h2v1h-2zM581 449h3v1h-3zM589 449h2v1h-2zM64 450h3v1h-3zM83 450h2v1h-2zM92 450h3v1h-3zM107 450h2v1h-2zM155 450h2v1h-2zM228 450h2v1h-2zM270 450h2v1h-2zM298 450h3v1h-3zM308 450h3v1h-3zM316 450h2v1h-2zM344 450h2v1h-2zM362 450h3v1h-3zM379 450h4v1h-4zM402 450h3v1h-3zM417 450h2v1h-2zM427 450h3v1h-3zM442 450h2v1h-2zM453 450h2v1h-2zM498 450h2v1h-2zM511 450h2v1h-2zM582 450h2v1h-2zM589 450h2v1h-2zM65 451h2v1h-2zM82 451h3v1h-3zM93 451h2v1h-2zM106 451h3v1h-3zM155 451h2v1h-2zM227 451h3v1h-3zM270 451h2v1h-2zM298 451h2v1h-2zM309 451h2v1h-2zM315 451h3v1h-3zM363 451h2v1h-2zM379 451h4v1h-4zM402 451h2v1h-2zM417 451h2v1h-2zM427 451h2v1h-2zM442 451h2v1h-2zM452 451h3v1h-3zM498 451h2v1h-2zM510 451h3v1h-3zM582 451h2v1h-2zM588 451h3v1h-3zM65 452h2v1h-2zM82 452h2v1h-2zM93 452h2v1h-2zM106 452h2v1h-2zM155 452h3v1h-3zM227 452h2v1h-2zM270 452h2v1h-2zM298 452h2v1h-2zM309 452h3v1h-3zM315 452h2v1h-2zM363 452h2v1h-2zM378 452h6v1h-6zM401 452h3v1h-3zM417 452h2v1h-2zM427 452h2v1h-2zM442 452h3v1h-3zM452 452h2v1h-2zM498 452h2v1h-2zM510 452h2v1h-2zM582 452h2v1h-2zM588 452h2v1h-2zM65 453h2v1h-2zM82 453h2v1h-2zM93 453h2v1h-2zM106 453h2v1h-2zM156 453h2v1h-2zM226 453h3v1h-3zM270 453h3v1h-3zM298 453h2v1h-2zM310 453h2v1h-2zM314 453h3v1h-3zM363 453h2v1h-2zM378 453h2v1h-2zM382 453h2v1h-2zM400 453h3v1h-3zM417 453h3v1h-3zM427 453h2v1h-2zM443 453h2v1h-2zM452 453h2v1h-2zM498 453h2v1h-2zM510 453h2v1h-2zM582 453h2v1h-2zM588 453h2v1h-2zM65 454h2v1h-2zM82 454h2v1h-2zM93 454h3v1h-3zM106 454h2v1h-2zM156 454h2v1h-2zM226 454h2v1h-2zM271 454h2v1h-2zM297 454h3v1h-3zM310 454h3v1h-3zM314 454h2v1h-2zM363 454h3v1h-3zM378 454h2v1h-2zM382 454h3v1h-3zM399 454h3v1h-3zM418 454h2v1h-2zM426 454h3v1h-3zM443 454h3v1h-3zM451 454h3v1h-3zM498 454h2v1h-2zM510 454h2v1h-2zM582 454h2v1h-2zM588 454h2v1h-2zM65 455h2v1h-2zM81 455h3v1h-3zM94 455h2v1h-2zM106 455h2v1h-2zM156 455h2v1h-2zM225 455h3v1h-3zM271 455h2v1h-2zM297 455h2v1h-2zM311 455h5v1h-5zM364 455h2v1h-2zM378 455h2v1h-2zM383 455h2v1h-2zM398 455h3v1h-3zM418 455h2v1h-2zM426 455h2v1h-2zM444 455h2v1h-2zM451 455h2v1h-2zM498 455h3v1h-3zM509 455h3v1h-3zM582 455h3v1h-3zM588 455h2v1h-2zM65 456h3v1h-3zM81 456h2v1h-2zM94 456h2v1h-2zM106 456h2v1h-2zM156 456h3v1h-3zM225 456h2v1h-2zM271 456h2v1h-2zM297 456h2v1h-2zM311 456h4v1h-4zM364 456h2v1h-2zM377 456h3v1h-3zM383 456h2v1h-2zM398 456h2v1h-2zM418 456h2v1h-2zM426 456h2v1h-2zM444 456h3v1h-3zM450 456h3v1h-3zM499 456h2v1h-2zM509 456h2v1h-2zM583 456h2v1h-2zM587 456h3v1h-3zM66 457h2v1h-2zM81 457h2v1h-2zM94 457h2v1h-2zM105 457h3v1h-3zM157 457h2v1h-2zM224 457h3v1h-3zM271 457h3v1h-3zM297 457h2v1h-2zM312 457h3v1h-3zM364 457h3v1h-3zM377 457h2v1h-2zM383 457h3v1h-3zM397 457h3v1h-3zM418 457h3v1h-3zM425 457h3v1h-3zM445 457h2v1h-2zM450 457h2v1h-2zM499 457h2v1h-2zM509 457h2v1h-2zM583 457h2v1h-2zM587 457h2v1h-2zM66 458h2v1h-2zM81 458h2v1h-2zM94 458h3v1h-3zM105 458h2v1h-2zM157 458h2v1h-2zM224 458h2v1h-2zM272 458h2v1h-2zM296 458h3v1h-3zM312 458h2v1h-2zM365 458h2v1h-2zM377 458h2v1h-2zM384 458h2v1h-2zM396 458h3v1h-3zM419 458h2v1h-2zM425 458h2v1h-2zM445 458h3v1h-3zM449 458h3v1h-3zM499 458h2v1h-2zM509 458h2v1h-2zM583 458h2v1h-2zM586 458h3v1h-3zM66 459h2v1h-2zM80 459h3v1h-3zM95 459h2v1h-2zM105 459h2v1h-2zM157 459h2v1h-2zM224 459h2v1h-2zM272 459h4v1h-4zM296 459h2v1h-2zM365 459h2v1h-2zM376 459h3v1h-3zM384 459h2v1h-2zM396 459h2v1h-2zM419 459h2v1h-2zM425 459h2v1h-2zM446 459h5v1h-5zM499 459h2v1h-2zM508 459h3v1h-3zM583 459h2v1h-2zM586 459h2v1h-2zM66 460h2v1h-2zM80 460h2v1h-2zM95 460h2v1h-2zM105 460h2v1h-2zM157 460h3v1h-3zM224 460h2v1h-2zM273 460h5v1h-5zM296 460h2v1h-2zM365 460h3v1h-3zM376 460h2v1h-2zM384 460h3v1h-3zM395 460h3v1h-3zM419 460h2v1h-2zM425 460h2v1h-2zM447 460h4v1h-4zM499 460h3v1h-3zM508 460h2v1h-2zM583 460h5v1h-5zM66 461h2v1h-2zM80 461h2v1h-2zM95 461h2v1h-2zM105 461h2v1h-2zM158 461h2v1h-2zM223 461h3v1h-3zM275 461h3v1h-3zM295 461h3v1h-3zM366 461h2v1h-2zM376 461h2v1h-2zM385 461h2v1h-2zM395 461h2v1h-2zM419 461h2v1h-2zM424 461h3v1h-3zM447 461h3v1h-3zM500 461h2v1h-2zM508 461h2v1h-2zM583 461h4v1h-4zM66 462h3v1h-3zM79 462h3v1h-3zM95 462h3v1h-3zM104 462h3v1h-3zM158 462h2v1h-2zM192 462h3v1h-3zM208 462h3v1h-3zM223 462h2v1h-2zM276 462h3v1h-3zM295 462h2v1h-2zM366 462h2v1h-2zM375 462h3v1h-3zM385 462h2v1h-2zM394 462h3v1h-3zM419 462h3v1h-3zM423 462h3v1h-3zM448 462h2v1h-2zM500 462h2v1h-2zM507 462h3v1h-3zM584 462h3v1h-3zM67 463h2v1h-2zM79 463h2v1h-2zM96 463h2v1h-2zM104 463h2v1h-2zM158 463h2v1h-2zM191 463h7v1h-7zM208 463h6v1h-6zM223 463h2v1h-2zM277 463h2v1h-2zM295 463h2v1h-2zM366 463h2v1h-2zM375 463h2v1h-2zM385 463h3v1h-3zM394 463h2v1h-2zM420 463h6v1h-6zM500 463h3v1h-3zM507 463h2v1h-2zM584 463h2v1h-2zM67 464h2v1h-2zM78 464h3v1h-3zM96 464h2v1h-2zM104 464h2v1h-2zM158 464h3v1h-3zM190 464h3v1h-3zM194 464h5v1h-5zM207 464h9v1h-9zM223 464h2v1h-2zM277 464h2v1h-2zM294 464h3v1h-3zM366 464h3v1h-3zM374 464h3v1h-3zM386 464h2v1h-2zM393 464h3v1h-3zM420 464h4v1h-4zM501 464h2v1h-2zM506 464h3v1h-3zM584 464h2v1h-2zM67 465h2v1h-2zM78 465h2v1h-2zM96 465h2v1h-2zM104 465h2v1h-2zM159 465h2v1h-2zM189 465h3v1h-3zM197 465h2v1h-2zM207 465h2v1h-2zM213 465h5v1h-5zM222 465h3v1h-3zM277 465h3v1h-3zM294 465h2v1h-2zM367 465h2v1h-2zM374 465h2v1h-2zM386 465h3v1h-3zM393 465h2v1h-2zM420 465h2v1h-2zM501 465h3v1h-3zM506 465h2v1h-2zM67 466h2v1h-2zM78 466h2v1h-2zM96 466h3v1h-3zM103 466h3v1h-3zM159 466h2v1h-2zM188 466h3v1h-3zM197 466h3v1h-3zM206 466h3v1h-3zM215 466h3v1h-3zM222 466h2v1h-2zM278 466h2v1h-2zM294 466h2v1h-2zM367 466h2v1h-2zM373 466h3v1h-3zM387 466h2v1h-2zM392 466h3v1h-3zM502 466h2v1h-2zM505 466h3v1h-3zM67 467h2v1h-2zM77 467h3v1h-3zM97 467h2v1h-2zM103 467h2v1h-2zM159 467h2v1h-2zM186 467h4v1h-4zM198 467h2v1h-2zM206 467h2v1h-2zM216 467h3v1h-3zM222 467h2v1h-2zM278 467h3v1h-3zM294 467h2v1h-2zM367 467h3v1h-3zM373 467h2v1h-2zM387 467h2v1h-2zM390 467h4v1h-4zM502 467h5v1h-5zM67 468h3v1h-3zM77 468h2v1h-2zM97 468h2v1h-2zM103 468h2v1h-2zM159 468h3v1h-3zM185 468h4v1h-4zM198 468h3v1h-3zM205 468h3v1h-3zM217 468h2v1h-2zM222 468h2v1h-2zM279 468h2v1h-2zM293 468h3v1h-3zM368 468h3v1h-3zM372 468h3v1h-3zM387 468h6v1h-6zM503 468h4v1h-4zM68 469h2v1h-2zM76 469h3v1h-3zM97 469h3v1h-3zM102 469h3v1h-3zM160 469h2v1h-2zM182 469h5v1h-5zM199 469h2v1h-2zM205 469h2v1h-2zM217 469h3v1h-3zM221 469h3v1h-3zM279 469h2v1h-2zM293 469h2v1h-2zM368 469h6v1h-6zM388 469h3v1h-3zM503 469h3v1h-3zM68 470h10v1h-10zM98 470h2v1h-2zM102 470h2v1h-2zM160 470h3v1h-3zM178 470h8v1h-8zM199 470h8v1h-8zM218 470h2v1h-2zM221 470h2v1h-2zM279 470h3v1h-3zM293 470h2v1h-2zM370 470h4v1h-4zM388 470h2v1h-2zM504 470h2v1h-2zM68 471h10v1h-10zM98 471h2v1h-2zM102 471h2v1h-2zM161 471h4v1h-4zM170 471h13v1h-13zM200 471h6v1h-6zM218 471h5v1h-5zM280 471h2v1h-2zM292 471h3v1h-3zM98 472h2v1h-2zM102 472h2v1h-2zM162 472h17v1h-17zM219 472h4v1h-4zM280 472h3v1h-3zM291 472h3v1h-3zM98 473h6v1h-6zM164 473h7v1h-7zM219 473h4v1h-4zM281 473h4v1h-4zM289 473h5v1h-5zM99 474h4v1h-4zM220 474h2v1h-2zM282 474h10v1h-10zM99 475h4v1h-4zM220 475h2v1h-2zM284 475h6v1h-6zM99 476h4v1h-4zM100 477h2v1h-2zM100 478h2v1h-2z" fill="#0000ff" shape-rendering="crispEdges"/>
<path d="M45 403h1v1h-1zM43 404h2v1h-2zM604 405h1v1h-1zM608 405h2v1h-2zM604 406h1v1h-1zM610 406h1v1h-1zM49 407h1v1h-1zM603 407h1v1h-1zM40 408h1v1h-1zM50 408h1v1h-1zM614 408h2v1h-2zM39 409h1v1h-1zM51 409h1v1h-1zM616 409h1v1h-1zM38 410h1v1h-1zM550 410h2v1h-2zM486 411h1v1h-1zM549 411h1v1h-1zM554 411h1v1h-1zM601 411h1v1h-1zM620 411h2v1h-2zM55 412h1v1h-1zM481 412h2v1h-2zM487 412h2v1h-2zM555 412h1v1h-1zM601 412h1v1h-1zM622 412h1v1h-1zM56 413h2v1h-2zM480 413h1v1h-1zM556 413h1v1h-1zM600 413h1v1h-1zM36 414h1v1h-1zM492 414h1v1h-1zM35 415h1v1h-1zM335 415h3v1h-3zM493 415h1v1h-1zM548 415h1v1h-1zM35 416h1v1h-1zM254 416h2v1h-2zM476 416h1v1h-1zM493 416h1v1h-1zM547 416h1v1h-1zM624 416h1v1h-1zM60 417h1v1h-1zM121 417h3v1h-3zM256 417h1v1h-1zM476 417h1v1h-1zM547 417h1v1h-1zM558 417h1v1h-1zM599 417h1v1h-1zM625 417h1v1h-1zM645 417h1v1h-1zM60 418h1v1h-1zM251 418h1v1h-1zM332 418h1v1h-1zM475 418h1v1h-1zM559 418h1v1h-1zM599 418h1v1h-1zM625 418h1v1h-1zM645 418h1v1h-1zM30 419h3v1h-3zM61 419h1v1h-1zM127 419h2v1h-2zM250 419h1v1h-1zM332 419h1v1h-1zM339 419h1v1h-1zM559 419h1v1h-1zM599 419h1v1h-1zM644 419h1v1h-1zM129 420h1v1h-1zM249 420h1v1h-1zM260 420h1v1h-1zM332 420h1v1h-1zM340 420h1v1h-1zM495 420h1v1h-1zM26 421h1v1h-1zM119 421h1v1h-1zM261 421h1v1h-1zM340 421h1v1h-1zM495 421h1v1h-1zM546 421h1v1h-1zM25 422h1v1h-1zM119 422h1v1h-1zM262 422h1v1h-1zM473 422h1v1h-1zM496 422h1v1h-1zM545 422h1v1h-1zM627 422h1v1h-1zM1 423h1v1h-1zM24 423h1v1h-1zM62 423h1v1h-1zM118 423h1v1h-1zM472 423h1v1h-1zM545 423h1v1h-1zM562 423h1v1h-1zM598 423h1v1h-1zM628 423h1v1h-1zM643 423h1v1h-1zM2 424h1v1h-1zM63 424h1v1h-1zM133 424h2v1h-2zM247 424h1v1h-1zM330 424h1v1h-1zM471 424h1v1h-1zM562 424h1v1h-1zM598 424h1v1h-1zM628 424h1v1h-1zM643 424h1v1h-1zM3 425h1v1h-1zM63 425h1v1h-1zM135 425h1v1h-1zM247 425h1v1h-1zM330 425h1v1h-1zM342 425h1v1h-1zM563 425h1v1h-1zM597 425h1v1h-1zM643 425h1v1h-1zM247 426h1v1h-1zM264 426h1v1h-1zM329 426h1v1h-1zM342 426h1v1h-1zM497 426h1v1h-1zM526 426h1v1h-1zM22 427h1v1h-1zM117 427h1v1h-1zM139 427h1v1h-1zM265 427h1v1h-1zM343 427h1v1h-1zM497 427h1v1h-1zM527 427h2v1h-2zM544 427h1v1h-1zM577 427h1v1h-1zM7 428h2v1h-2zM22 428h1v1h-1zM117 428h1v1h-1zM139 428h1v1h-1zM266 428h1v1h-1zM467 428h1v1h-1zM498 428h1v1h-1zM523 428h1v1h-1zM543 428h1v1h-1zM578 428h1v1h-1zM630 428h1v1h-1zM9 429h1v1h-1zM21 429h1v1h-1zM65 429h1v1h-1zM116 429h1v1h-1zM140 429h1v1h-1zM144 429h2v1h-2zM467 429h1v1h-1zM523 429h1v1h-1zM543 429h1v1h-1zM565 429h3v1h-3zM571 429h3v1h-3zM579 429h1v1h-1zM597 429h1v1h-1zM630 429h1v1h-1zM641 429h1v1h-1zM65 430h1v1h-1zM146 430h1v1h-1zM245 430h1v1h-1zM328 430h1v1h-1zM466 430h1v1h-1zM522 430h1v1h-1zM596 430h1v1h-1zM631 430h1v1h-1zM641 430h1v1h-1zM65 431h1v1h-1zM150 431h1v1h-1zM245 431h1v1h-1zM328 431h1v1h-1zM344 431h1v1h-1zM359 431h3v1h-3zM531 431h1v1h-1zM596 431h1v1h-1zM640 431h1v1h-1zM151 432h2v1h-2zM244 432h1v1h-1zM268 432h1v1h-1zM327 432h1v1h-1zM344 432h1v1h-1zM356 432h1v1h-1zM499 432h1v1h-1zM531 432h1v1h-1zM12 433h1v1h-1zM19 433h1v1h-1zM115 433h1v1h-1zM268 433h1v1h-1zM344 433h1v1h-1zM356 433h1v1h-1zM499 433h1v1h-1zM532 433h1v1h-1zM542 433h1v1h-1zM582 433h1v1h-1zM13 434h1v1h-1zM18 434h1v1h-1zM115 434h1v1h-1zM269 434h1v1h-1zM355 434h1v1h-1zM464 434h1v1h-1zM499 434h1v1h-1zM520 434h1v1h-1zM542 434h1v1h-1zM582 434h1v1h-1zM632 434h1v1h-1zM14 435h1v1h-1zM18 435h1v1h-1zM66 435h1v1h-1zM115 435h1v1h-1zM154 435h1v1h-1zM363 435h1v1h-1zM463 435h1v1h-1zM520 435h1v1h-1zM541 435h1v1h-1zM582 435h1v1h-1zM595 435h1v1h-1zM633 435h1v1h-1zM638 435h1v1h-1zM66 436h1v1h-1zM155 436h1v1h-1zM242 436h1v1h-1zM326 436h1v1h-1zM363 436h1v1h-1zM415 436h3v1h-3zM463 436h1v1h-1zM520 436h1v1h-1zM595 436h1v1h-1zM633 436h1v1h-1zM638 436h1v1h-1zM66 437h1v1h-1zM155 437h1v1h-1zM242 437h1v1h-1zM326 437h1v1h-1zM346 437h1v1h-1zM363 437h1v1h-1zM534 437h1v1h-1zM595 437h1v1h-1zM637 437h1v1h-1zM241 438h1v1h-1zM270 438h1v1h-1zM325 438h1v1h-1zM347 438h1v1h-1zM353 438h1v1h-1zM500 438h1v1h-1zM534 438h1v1h-1zM114 439h1v1h-1zM271 439h1v1h-1zM348 439h1v1h-1zM351 439h2v1h-2zM412 439h1v1h-1zM439 439h3v1h-3zM500 439h1v1h-1zM535 439h1v1h-1zM539 439h1v1h-1zM584 439h1v1h-1zM114 440h1v1h-1zM271 440h1v1h-1zM412 440h1v1h-1zM419 440h1v1h-1zM461 440h1v1h-1zM501 440h1v1h-1zM519 440h1v1h-1zM538 440h1v1h-1zM584 440h1v1h-1zM67 441h1v1h-1zM113 441h1v1h-1zM157 441h1v1h-1zM365 441h1v1h-1zM411 441h1v1h-1zM419 441h1v1h-1zM460 441h1v1h-1zM518 441h1v1h-1zM538 441h1v1h-1zM584 441h1v1h-1zM594 441h1v1h-1zM68 442h1v1h-1zM157 442h1v1h-1zM239 442h1v1h-1zM324 442h1v1h-1zM365 442h1v1h-1zM419 442h1v1h-1zM436 442h1v1h-1zM460 442h1v1h-1zM518 442h1v1h-1zM594 442h1v1h-1zM68 443h1v1h-1zM94 443h1v1h-1zM158 443h1v1h-1zM238 443h1v1h-1zM310 443h1v1h-1zM323 443h1v1h-1zM366 443h1v1h-1zM436 443h1v1h-1zM444 443h1v1h-1zM594 443h1v1h-1zM94 444h1v1h-1zM238 444h1v1h-1zM272 444h1v1h-1zM311 444h1v1h-1zM323 444h1v1h-1zM435 444h1v1h-1zM444 444h1v1h-1zM502 444h1v1h-1zM91 445h1v1h-1zM95 445h1v1h-1zM113 445h1v1h-1zM273 445h1v1h-1zM306 445h1v1h-1zM311 445h1v1h-1zM409 445h1v1h-1zM445 445h1v1h-1zM502 445h1v1h-1zM586 445h1v1h-1zM90 446h1v1h-1zM112 446h1v1h-1zM273 446h1v1h-1zM305 446h1v1h-1zM409 446h1v1h-1zM421 446h1v1h-1zM459 446h1v1h-1zM502 446h1v1h-1zM517 446h1v1h-1zM586 446h1v1h-1zM69 447h1v1h-1zM89 447h1v1h-1zM112 447h1v1h-1zM159 447h1v1h-1zM305 447h1v1h-1zM367 447h1v1h-1zM408 447h1v1h-1zM421 447h1v1h-1zM458 447h1v1h-1zM516 447h1v1h-1zM587 447h1v1h-1zM593 447h1v1h-1zM69 448h1v1h-1zM159 448h1v1h-1zM235 448h1v1h-1zM321 448h1v1h-1zM367 448h1v1h-1zM422 448h1v1h-1zM433 448h1v1h-1zM458 448h1v1h-1zM516 448h1v1h-1zM592 448h1v1h-1zM69 449h1v1h-1zM97 449h1v1h-1zM160 449h1v1h-1zM234 449h1v1h-1zM315 449h1v1h-1zM321 449h1v1h-1zM367 449h1v1h-1zM433 449h1v1h-1zM447 449h1v1h-1zM592 449h1v1h-1zM98 450h1v1h-1zM233 450h1v1h-1zM275 450h1v1h-1zM315 450h1v1h-1zM320 450h1v1h-1zM433 450h1v1h-1zM447 450h1v1h-1zM503 450h1v1h-1zM88 451h1v1h-1zM98 451h1v1h-1zM111 451h1v1h-1zM276 451h1v1h-1zM303 451h1v1h-1zM316 451h1v1h-1zM406 451h1v1h-1zM448 451h1v1h-1zM503 451h1v1h-1zM588 451h1v1h-1zM87 452h1v1h-1zM111 452h1v1h-1zM276 452h1v1h-1zM303 452h1v1h-1zM406 452h1v1h-1zM423 452h1v1h-1zM456 452h1v1h-1zM504 452h1v1h-1zM515 452h1v1h-1zM589 452h1v1h-1zM70 453h1v1h-1zM87 453h1v1h-1zM111 453h1v1h-1zM161 453h1v1h-1zM303 453h1v1h-1zM368 453h1v1h-1zM405 453h1v1h-1zM424 453h1v1h-1zM456 453h1v1h-1zM515 453h1v1h-1zM589 453h1v1h-1zM70 454h1v1h-1zM161 454h1v1h-1zM232 454h1v1h-1zM369 454h1v1h-1zM424 454h1v1h-1zM431 454h1v1h-1zM455 454h1v1h-1zM514 454h1v1h-1zM71 455h1v1h-1zM99 455h1v1h-1zM162 455h1v1h-1zM231 455h1v1h-1zM369 455h1v1h-1zM431 455h1v1h-1zM450 455h1v1h-1zM99 456h1v1h-1zM231 456h1v1h-1zM278 456h1v1h-1zM384 456h1v1h-1zM430 456h1v1h-1zM451 456h2v1h-2zM505 456h1v1h-1zM86 457h1v1h-1zM99 457h1v1h-1zM110 457h1v1h-1zM278 457h1v1h-1zM302 457h1v1h-1zM383 457h1v1h-1zM388 457h1v1h-1zM402 457h1v1h-1zM505 457h1v1h-1zM85 458h1v1h-1zM110 458h1v1h-1zM279 458h1v1h-1zM301 458h1v1h-1zM382 458h1v1h-1zM389 458h1v1h-1zM402 458h1v1h-1zM426 458h2v1h-2zM505 458h1v1h-1zM513 458h1v1h-1zM72 459h1v1h-1zM85 459h1v1h-1zM109 459h1v1h-1zM163 459h1v1h-1zM301 459h1v1h-1zM371 459h1v1h-1zM390 459h1v1h-1zM401 459h1v1h-1zM428 459h1v1h-1zM512 459h1v1h-1zM72 460h1v1h-1zM163 460h1v1h-1zM229 460h1v1h-1zM371 460h1v1h-1zM512 460h1v1h-1zM72 461h1v1h-1zM100 461h1v1h-1zM164 461h1v1h-1zM229 461h1v1h-1zM371 461h1v1h-1zM101 462h1v1h-1zM228 462h1v1h-1zM280 462h1v1h-1zM379 462h1v1h-1zM508 462h1v1h-1zM83 463h1v1h-1zM101 463h1v1h-1zM108 463h1v1h-1zM281 463h1v1h-1zM299 463h1v1h-1zM379 463h1v1h-1zM392 463h1v1h-1zM398 463h1v1h-1zM508 463h1v1h-1zM83 464h1v1h-1zM108 464h1v1h-1zM217 464h1v1h-1zM281 464h1v1h-1zM299 464h1v1h-1zM378 464h1v1h-1zM392 464h1v1h-1zM398 464h1v1h-1zM509 464h1v1h-1zM74 465h1v1h-1zM82 465h1v1h-1zM107 465h1v1h-1zM165 465h1v1h-1zM194 465h2v1h-2zM199 465h3v1h-3zM213 465h1v1h-1zM218 465h1v1h-1zM299 465h1v1h-1zM373 465h2v1h-2zM393 465h1v1h-1zM397 465h1v1h-1zM75 466h1v1h-1zM166 466h1v1h-1zM193 466h1v1h-1zM211 466h2v1h-2zM219 466h1v1h-1zM224 466h2v1h-2zM375 466h1v1h-1zM75 467h1v1h-1zM104 467h1v1h-1zM166 467h1v1h-1zM223 467h1v1h-1zM104 468h1v1h-1zM205 468h3v1h-3zM284 468h1v1h-1zM79 469h1v1h-1zM105 469h1v1h-1zM188 469h2v1h-2zM285 469h1v1h-1zM297 469h1v1h-1zM78 470h1v1h-1zM187 470h1v1h-1zM286 470h1v1h-1zM296 470h1v1h-1zM77 471h1v1h-1zM169 471h2v1h-2zM181 471h3v1h-3zM295 471h1v1h-1zM171 472h1v1h-1zM175 472h3v1h-3zM290 473h1v1h-1zM291 474h2v1h-2z" fill="#ff00ff" shape-rendering="crispEdges"/>
<g shape-rendering="crispEdges">
<rect x="2" y="414" width="3" height="1" fill="#ff0000"/>
<rect x="8" y="414" width="3" height="1" fill="#ff0000"/>
<rect x="14" y="414" width="3" height="1" fill="#ff0000"/>
<rect x="20" y="414" width="3" height="1" fill="#ff0000"/>
<rect x="26" y="414" width="3" height="1" fill="#ff0000"/>
<rect x="32" y="414" width="3" height="1" fill="#ff0000"/>
<rect x="38" y="414" width="3" height="1" fill="#ff0000"/>
<rect x="44" y="414" width="3" height="1" fill="#ff0000"/>
<rect x="50" y="414" width="3" height="1" fill="#ff0000"/>
<rect x="56" y="414" width="3" height="1" fill="#ff0000"/>
<rect x="62" y="414" width="3" height="1" fill="#ff0000"/>
<rect x="68" y="414" width="3" height="1" fill="#ff0000"/>
<rect x="74" y="414" width="3" height="1" fill="#ff0000"/>
<rect x="80" y="414" width="3" height="1" fill="#ff0000"/>
<rect x="86" y="414" width="3" height="1" fill="#ff0000"/>
<rect x="92" y="414" width="3" height="1" fill="#ff0000"/>
<rect x="98" y="414" width="3" height="1" fill="#ff0000"/>
<rect x="104" y="414" width="3" height="1" fill="#ff0000"/>
<rect x="110" y="414" width="3" height="1" fill="#ff0000"/>
<rect x="116" y="414" width="3" height="1" fill="#ff0000"/>
<rect x="122" y="414" width="3" height="1" fill="#ff0000"/>
<rect x="128" y="414" width="3" height="1" fill="#ff0000"/>
<rect x="134" y="414" width="3" height="1" fill="#ff0000"/>
<rect x="140" y="414" width="3" height="1" fill="#ff0000"/>
<rect x="146" y="414" width="3" height="1" fill="#ff0000"/>
<rect x="152" y="414" width="3" height="1" fill="#ff0000"/>
<rect x="158" y="414" width="3" height="1" fill="#ff0000"/>
<rect x="164" y="414" width="3" height="1" fill="#ff0000"/>
<rect x="170" y="414" width="3" height="1" fill="#ff0000"/>
<rect x="176" y="414" width="3" height="1" fill="#ff0000"/>
<rect x="182" y="414" width="3" height="1" fill="#ff0000"/>
<rect x="188" y="414" width="3" height="1" fill="#ff0000"/>
<rect x="194" y="414" width="3" height="1" fill="#ff0000"/>
<rect x="200" y="414" width="3" height="1" fill="#ff0000"/>
<rect x="206" y="414" width="3" height="1" fill="#ff0000"/>
<rect x="212" y="414" width="3" height="1" fill="#ff0000"/>
<rect x="218" y="414" width="3" height="1" fill="#ff0000"/>
<rect x="224" y="414" width="3" height="1" fill="#ff0000"/>
<rect x="230" y="414" width="3" height="1" fill="#ff0000"/>
<rect x="236" y="414" width="3" height="1" fill="#ff0000"/>
<rect x="242" y="414" width="3" height="1" fill="#ff0000"/>
<rect x="248" y="414" width="3" height="1" fill="#ff0000"/>
<rect x="254" y="414" width="3" height="1" fill="#ff0000"/>
<rect x="260" y="414" width="3" height="1" fill="#ff0000"/>
<rect x="266" y="414" width="3" height="1" fill="#ff0000"/>
<rect x="272" y="414" width="3" height="1" fill="#ff0000"/>
<rect x="278" y="414" width="3" height="1" fill="#ff0000"/>
<rect x="284" y="414" width="3" height="1" fill="#ff0000"/>
<rect x="290" y="414" width="3" height="1" fill="#ff0000"/>
<rect x="296" y="414" width="3" height="1" fill="#ff0000"/>
<rect x="302" y="414" width="3" height="1" fill="#ff0000"/>
<rect x="308" y="414" width="3" height="1" fill="#ff0000"/>
<rect x="314" y="414" width="3" height="1" fill="#ff0000"/>
<rect x="320" y="414" width="3" height="1" fill="#ff0000"/>
<rect x="326" y="414" width="3" height="1" fill="#ff0000"/>
<rect x="332" y="414" width="3" height="1" fill="#ff0000"/>
<rect x="338" y="414" width="3" height="1" fill="#ff0000"/>
<rect x="344" y="414" width="3" height="1" fill="#ff0000"/>
<rect x="350" y="414" width="3" height="1" fill="#ff0000"/>
<rect x="356" y="414" width="3" height="1" fill="#ff0000"/>
<rect x="362" y="414" width="3" height="1" fill="#ff0000"/>
<rect x="368" y="414" width="3" height="1" fill="#ff0000"/>
<rect x="374" y="414" width="3" height="1" fill="#ff0000"/>
<rect x="380" y="414" width="3" height="1" fill="#ff0000"/>
<rect x="386" y="414" width="3" height="1" fill="#ff0000"/>
<rect x="392" y="414" width="3" height="1" fill="#ff0000"/>
<rect x="398" y="414" width="3" height="1" fill="#ff0000"/>
<rect x="404" y="414" width="3" height="1" fill="#ff0000"/>
<rect x="410" y="414" width="3" height="1" fill="#ff0000"/>
<rect x="416" y="414" width="3" height="1" fill="#ff0000"/>
<rect x="422" y="414" width="3" height="1" fill="#ff0000"/>
<rect x="428" y="414" width="3" height="1" fill="#ff0000"/>
<rect x="434" y="414" width="3" height="1" fill="#ff0000"/>
<rect x="440" y="414" width="3" height="1" fill="#ff0000"/>
<rect x="446" y="414" width="3" height="1" fill="#ff0000"/>
<rect x="452" y="414" width="3" height="1" fill="#ff0000"/>
<rect x="458" y="414" width="3" height="1" fill="#ff0000"/>
<rect x="464" y="414" width="3" height="1" fill="#ff0000"/>
<rect x="470" y="414" width="3" height="1" fill="#ff0000"/>
<rect x="476" y="414" width="3" height="1" fill="#ff0000"/>
<rect x="482" y="414" width="3" height="1" fill="#ff0000"/>
<rect x="488" y="414" width="3" height="1" fill="#ff0000"/>
<rect x="494" y="414" width="3" height="1" fill="#ff0000"/>
<rect x="500" y="414" width="3" height="1" fill="#ff0000"/>
<rect x="506" y="414" width="3" height="1" fill="#ff0000"/>
<rect x="512" y="414" width="3" height="1" fill="#ff0000"/>
<rect x="518" y="414" width="3" height="1" fill="#ff0000"/>
<rect x="524" y="414" width="3" height="1" fill="#ff0000"/>
<rect x="530" y="414" width="3" height="1" fill="#ff0000"/>
<rect x="536" y="414" width="3" height="1" fill="#ff0000"/>
<rect x="542" y="414" width="3" height="1" fill="#ff0000"/>
<rect x="548" y="414" width="3" height="1" fill="#ff0000"/>
<rect x="554" y="414" width="3" height="1" fill="#ff0000"/>
<rect x="560" y="414" width="3" height="1" fill="#ff0000"/>
<rect x="566" y="414" width="3" height="1" fill="#ff0000"/>
<rect x="572" y="414" width="3" height="1" fill="#ff0000"/>
<rect x="578" y="414" width="3" height="1" fill="#ff0000"/>
<rect x="584" y="414" width="3" height="1" fill="#ff0000"/>
<rect x="590" y="414" width="3" height="1" fill="#ff0000"/>
<rect x="596" y="414" width="3" height="1" fill="#ff0000"/>
<rect x="602" y="414" width="3" height="1" fill="#ff0000"/>
<rect x="608" y="414" width="3" height="1" fill="#ff0000"/>
<rect x="614" y="414" width="3" height="1" fill="#ff0000"/>
<rect x="620" y="414" width="3" height="1" fill="#ff0000"/>
<rect x="626" y="414" width="3" height="1" fill="#ff0000"/>
<rect x="632" y="414" width="3" height="1" fill="#ff0000"/>
<rect x="638" y="414" width="3" height="1" fill="#ff0000"/>
<rect x="644" y="414" width="3" height="1" fill="#ff0000"/>
<rect x="650" y="414" width="3" height="1" fill="#ff0000"/>
<rect x="2" y="464" width="3" height="1" fill="#ff0000"/>
<rect x="8" y="464" width="3" height="1" fill="#ff0000"/>
<rect x="14" y="464" width="3" height="1" fill="#ff0000"/>
<rect x="20" y="464" width="3" height="1" fill="#ff0000"/>
<rect x="26" y="464" width="3" height="1" fill="#ff0000"/>
<rect x="32" y="464" width="3" height="1" fill="#ff0000"/>
<rect x="38" y="464" width="3" height="1" fill="#ff0000"/>
<rect x="44" y="464" width="3" height="1" fill="#ff0000"/>
<rect x="50" y="464" width="3" height="1" fill="#ff0000"/>
<rect x="56" y="464" width="3" height="1" fill="#ff0000"/>
<rect x="62" y="464" width="3" height="1" fill="#ff0000"/>
<rect x="68" y="464" width="3" height="1" fill="#ff0000"/>
<rect x="74" y="464" width="3" height="1" fill="#ff0000"/>
<rect x="80" y="464" width="3" height="1" fill="#ff0000"/>
<rect x="86" y="464" width="3" height="1" fill="#ff0000"/>
<rect x="92" y="464" width="3" height="1" fill="#ff0000"/>
<rect x="98" y="464" width="3" height="1" fill="#ff0000"/>
<rect x="104" y="464" width="3" height="1" fill="#ff0000"/>
<rect x="110" y="464" width="3" height="1" fill="#ff0000"/>
<rect x="116" y="464" width="3" height="1" fill="#ff0000"/>
<rect x="122" y="464" width="3" height="1" fill="#ff0000"/>
<rect x="128" y="464" width="3" height="1" fill="#ff0000"/>
<rect x="134" y="464" width="3" height="1" fill="#ff0000"/>
<rect x="140" y="464" width="3" height="1" fill="#ff0000"/>
<rect x="146" y="464" width="3" height="1" fill="#ff0000"/>
<rect x="152" y="464" width="3" height="1" fill="#ff0000"/>
<rect x="158" y="464" width="3" height="1" fill="#ff0000"/>
<rect x="164" y="464" width="3" height="1" fill="#ff0000"/>
<rect x="170" y="464" width="3" height="1" fill="#ff0000"/>
<rect x="176" y="464" width="3" height="1" fill="#ff0000"/>
<rect x="182" y="464" width="3" height="1" fill="#ff0000"/>
<rect x="188" y="464" width="3" height="1" fill="#ff0000"/>
<rect x="194" y="464" width="3" height="1" fill="#ff0000"/>
<rect x="200" y="464" width="3" height="1" fill="#ff0000"/>
<rect x="206" y="464" width="3" height="1" fill="#ff0000"/>
<rect x="212" y="464" width="3" height="1" fill="#ff0000"/>
<rect x="218" y="464" width="3" height="1" fill="#ff0000"/>
<rect x="224" y="464" width="3" height="1" fill="#ff0000"/>
<rect x="230" y="464" width="3" height="1" fill="#ff0000"/>
<rect x="236" y="464" width="3" height="1" fill="#ff0000"/>
<rect x="242" y="464" width="3" height="1" fill="#ff0000"/>
<rect x="248" y="464" width="3" height="1" fill="#ff0000"/>
<rect x="254" y="464" width="3" height="1" fill="#ff0000"/>
<rect x="260" y="464" width="3" height="1" fill="#ff0000"/>
<rect x="266" y="464" width="3" height="1" fill="#ff0000"/>
<rect x="272" y="464" width="3" height="1" fill="#ff0000"/>
<rect x="278" y="464" width="3" height="1" fill="#ff0000"/>
<rect x="284" y="464" width="3" height="1" fill="#ff0000"/>
<rect x="290" y="464" width="3" height="1" fill="#ff0000"/>
<rect x="296" y="464" width="3" height="1" fill="#ff0000"/>
<rect x="302" y="464" width="3" height="1" fill="#ff0000"/>
<rect x="308" y="464" width="3" height="1" fill="#ff0000"/>
<rect x="314" y="464" width="3" height="1" fill="#ff0000"/>
<rect x="320" y="464" width="3" height="1" fill="#ff0000"/>
<rect x="326" y="464" width="3" height="1" fill="#ff0000"/>
<rect x="332" y="464" width="3" height="1" fill="#ff0000"/>
<rect x="338" y="464" width="3" height="1" fill="#ff0000"/>
<rect x="344" y="464" width="3" height="1" fill="#ff0000"/>
<rect x="350" y="464" width="3" height="1" fill="#ff0000"/>
<rect x="356" y="464" width="3" height="1" fill="#ff0000"/>
<rect x="362" y="464" width="3" height="1" fill="#ff0000"/>
<rect x="368" y="464" width="3" height="1" fill="#ff0000"/>
<rect x="374" y="464" width="3" height="1" fill="#ff0000"/>
<rect x="380" y="464" width="3" height="1" fill="#ff0000"/>
<rect x="386" y="464" width="3" height="1" fill="#ff0000"/>
<rect x="392" y="464" width="3" height="1" fill="#ff0000"/>
<rect x="398" y="464" width="3" height="1" fill="#ff0000"/>
<rect x="404" y="464" width="3" height="1" fill="#ff0000"/>
<rect x="410" y="464" width="3" height="1" fill="#ff0000"/>
<rect x="416" y="464" width="3" height="1" fill="#ff0000"/>
<rect x="422" y="464" width="3" height="1" fill="#ff0000"/>
<rect x="428" y="464" width="3" height="1" fill="#ff0000"/>
<rect x="434" y="464" width="3" height="1" fill="#ff0000"/>
<rect x="440" y="464" width="3" height="1" fill="#ff0000"/>
<rect x="446" y="464" width="3" height="1" fill="#ff0000"/>
<rect x="452" y="464" width="3" height="1" fill="#ff0000"/>
<rect x="458" y="464" width="3" height="1" fill="#ff0000"/>
<rect x="464" y="464" width="3" height="1" fill="#ff0000"/>
<rect x="470" y="464" width="3" height="1" fill="#ff0000"/>
<rect x="476" y="464" width="3" height="1" fill="#ff0000"/>
<rect x="482" y="464" width="3" height="1" fill="#ff0000"/>
<rect x="488" y="464" width="3" height="1" fill="#ff0000"/>
<rect x="494" y="464" width="3" height="1" fill="#ff0000"/>
<rect x="500" y="464" width="3" height="1" fill="#ff0000"/>
<rect x="506" y="464" width="3" height="1" fill="#ff0000"/>
<rect x="512" y="464" width="3" height="1" fill="#ff0000"/>
<rect x="518" y="464" width="3" height="1" fill="#ff0000"/>
<rect x="524" y="464" width="3" height="1" fill="#ff0000"/>
<rect x="530" y="464" width="3" height="1" fill="#ff0000"/>
<rect x="536" y="464" width="3" height="1" fill="#ff0000"/>
<rect x="542" y="464" width="3" height="1" fill="#ff0000"/>
<rect x="548" y="464" width="3" height="1" fill="#ff0000"/>
<rect x="554" y="464" width="3" height="1" fill="#ff0000"/>
<rect x="560" y="464" width="3" height="1" fill="#ff0000"/>
<rect x="566" y="464" width="3" height="1" fill="#ff0000"/>
<rect x="572" y="464" width="3" height="1" fill="#ff0000"/>
<rect x="578" y="464" width="3" height="1" fill="#ff0000"/>
<rect x="584" y="464" width="3" height="1" fill="#ff0000"/>
<rect x="590" y="464" width="3" height="1" fill="#ff0000"/>
<rect x="596" y="464" width="3" height="1" fill="#ff0000"/>
<rect x="602" y="464" width="3" height="1" fill="#ff0000"/>
<rect x="608" y="464" width="3" height="1" fill="#ff0000"/>
<rect x="614" y="464" width="3" height="1" fill="#ff0000"/>
<rect x="620" y="464" width="3" height="1" fill="#ff0000"/>
<rect x="626" y="464" width="3" height="1" fill="#ff0000"/>
<rect x="632" y="464" width="3" height="1" fill="#ff0000"/>
<rect x="638" y="464" width="3" height="1" fill="#ff0000"/>
<rect x="644" y="464" width="3" height="1" fill="#ff0000"/>
<rect x="650" y="464" width="3" height="1" fill="#ff0000"/>
</g>
<g shape-rendering="crispEdges">
<polygon points="1,476 6,481 1,481" fill="#c0c0c0"/>
<rect x="0" y="0" width="655" height="1" fill="#000"/>
<rect x="0" y="0" width="1" height="482" fill="#000"/>
<rect x="654" y="0" width="1" height="482" fill="#000"/>
<rect x="0" y="302" width="655" height="1" fill="#000"/>
<rect x="0" y="303" width="655" height="1" fill="#fff"/>
<rect x="0" y="304" width="655" height="1" fill="#000"/>
<rect x="0" y="394" width="655" height="1" fill="#000"/>
<rect x="0" y="395" width="655" height="1" fill="#fff"/>
<rect x="0" y="396" width="655" height="1" fill="#000"/>
<rect x="0" y="481" width="655" height="1" fill="#000"/>
<rect x="655" y="2" width="2" height="1" fill="#000"/>
<rect x="655" y="35" width="2" height="1" fill="#000"/>
<rect x="655" y="68" width="2" height="1" fill="#000"/>
<rect x="655" y="101" width="2" height="1" fill="#000"/>
<rect x="655" y="134" width="2" height="1" fill="#000"/>
<rect x="655" y="167" width="2" height="1" fill="#000"/>
<rect x="655" y="200" width="2" height="1" fill="#000"/>
<rect x="655" y="233" width="2" height="1" fill="#000"/>
<rect x="655" y="266" width="2" height="1" fill="#000"/>
<rect x="655" y="299" width="2" height="1" fill="#000"/>
<rect x="655" y="306" width="1" height="1" fill="#000"/>
<rect x="655" y="353" width="1" height="1" fill="#000"/>
<rect x="655" y="393" width="1" height="1" fill="#000"/>
<rect x="655" y="398" width="1" height="1" fill="#000"/>
<rect x="655" y="480" width="1" height="1" fill="#000"/>
<rect x="1" y="482" width="1" height="3" fill="#000"/>
<rect x="65" y="482" width="1" height="3" fill="#000"/>
<rect x="129" y="482" width="1" height="3" fill="#000"/>
<rect x="193" y="482" width="1" height="3" fill="#000"/>
<rect x="257" y="482" width="1" height="3" fill="#000"/>
<rect x="321" y="482" width="1" height="3" fill="#000"/>
<rect x="385" y="482" width="1" height="3" fill="#000"/>
<rect x="449" y="482" width="1" height="3" fill="#000"/>
<rect x="513" y="482" width="1" height="3" fill="#000"/>
<rect x="577" y="482" width="1" height="3" fill="#000"/>
<rect x="641" y="482" width="1" height="3" fill="#000"/>
<rect x="4" y="7" width="7" height="1" fill="#000"/>
<rect x="5" y="8" width="5" height="1" fill="#000"/>
<rect x="6" y="9" width="3" height="1" fill="#000"/>
<rect x="7" y="10" width="1" height="1" fill="#000"/>
<rect x="656" y="89" width="41" height="11" fill="#000"/>
</g>
<text x="659.95" y="6" textLength="33.20" lengthAdjust="spacingAndGlyphs" fill="#000" stroke="#000">1.12890</text>
<text x="659.95" y="39" textLength="33.20" lengthAdjust="spacingAndGlyphs" fill="#000" stroke="#000">1.11595</text>
<text x="659.95" y="72" textLength="33.20" lengthAdjust="spacingAndGlyphs" fill="#000" stroke="#000">1.10335</text>
<text x="659.95" y="105" textLength="33.20" lengthAdjust="spacingAndGlyphs" fill="#000" stroke="#000">1.09040</text>
<text x="659.95" y="138" textLength="33.20" lengthAdjust="spacingAndGlyphs" fill="#000" stroke="#000">1.07745</text>
<text x="659.95" y="171" textLength="33.20" lengthAdjust="spacingAndGlyphs" fill="#000" stroke="#000">1.06485</text>
<text x="659.95" y="204" textLength="33.20" lengthAdjust="spacingAndGlyphs" fill="#000" stroke="#000">1.05190</text>
<text x="659.95" y="237" textLength="33.20" lengthAdjust="spacingAndGlyphs" fill="#000" stroke="#000">1.03930</text>
<text x="659.95" y="270" textLength="33.20" lengthAdjust="spacingAndGlyphs" fill="#000" stroke="#000">1.02635</text>
<text x="659.95" y="303" textLength="33.20" lengthAdjust="spacingAndGlyphs" fill="#000" stroke="#000">1.01375</text>
<text x="659.95" y="98" textLength="33.00" lengthAdjust="spacingAndGlyphs" fill="#fff" stroke="#fff">1.09317</text>
<text x="657.85" y="315" textLength="38.20" lengthAdjust="spacingAndGlyphs" fill="#000" stroke="#000">0.029715</text>
<text x="657.63" y="357" textLength="18.68" lengthAdjust="spacingAndGlyphs" fill="#000" stroke="#000">0.00</text>
<text x="657.44" y="391" textLength="41.92" lengthAdjust="spacingAndGlyphs" fill="#000" stroke="#000">-0.025853</text>
<text x="657.68" y="407" textLength="15.65" lengthAdjust="spacingAndGlyphs" fill="#000" stroke="#000">100</text>
<text x="656.60" y="418" textLength="10.20" lengthAdjust="spacingAndGlyphs" fill="#000" stroke="#000">80</text>
<text x="656.60" y="468" textLength="10.20" lengthAdjust="spacingAndGlyphs" fill="#000" stroke="#000">20</text>
<text x="657.80" y="478" textLength="5.10" lengthAdjust="spacingAndGlyphs" fill="#000" stroke="#000">0</text>
<text x="15.67" y="12" textLength="63.75" lengthAdjust="spacingAndGlyphs" fill="#000" stroke="#000">EURUSD,Daily</text>
<text x="4.28" y="317" textLength="144.26" lengthAdjust="spacingAndGlyphs" fill="#000" stroke="#000">MACD(5,34,4) 0.024061 0.024372</text>
<text x="-0.08" y="494" textLength="48.01" lengthAdjust="spacingAndGlyphs" fill="#000" stroke="#000">7 Aug 2024</text>
<text x="63.92" y="494" textLength="53.36" lengthAdjust="spacingAndGlyphs" fill="#000" stroke="#000">29 Aug 2024</text>
<text x="127.93" y="494" textLength="51.97" lengthAdjust="spacingAndGlyphs" fill="#000" stroke="#000">20 Sep 2024</text>
<text x="191.68" y="494" textLength="50.97" lengthAdjust="spacingAndGlyphs" fill="#000" stroke="#000">14 Oct 2024</text>
<text x="255.76" y="494" textLength="48.88" lengthAdjust="spacingAndGlyphs" fill="#000" stroke="#000">4 Nov 2024</text>
<text x="319.91" y="494" textLength="54.00" lengthAdjust="spacingAndGlyphs" fill="#000" stroke="#000">26 Nov 2024</text>
<text x="383.70" y="494" textLength="52.20" lengthAdjust="spacingAndGlyphs" fill="#000" stroke="#000">18 Dec 2024</text>
<text x="448.31" y="494" textLength="49.70" lengthAdjust="spacingAndGlyphs" fill="#000" stroke="#000">13 Jan 2025</text>
<text x="511.76" y="494" textLength="47.27" lengthAdjust="spacingAndGlyphs" fill="#000" stroke="#000">4 Feb 2025</text>
<text x="575.93" y="494" textLength="51.85" lengthAdjust="spacingAndGlyphs" fill="#000" stroke="#000">26 Feb 2025</text>
<text x="639.99" y="494" textLength="51.78" lengthAdjust="spacingAndGlyphs" fill="#000" stroke="#000">18 Mar 2025</text>
</svg>
</body></html>
